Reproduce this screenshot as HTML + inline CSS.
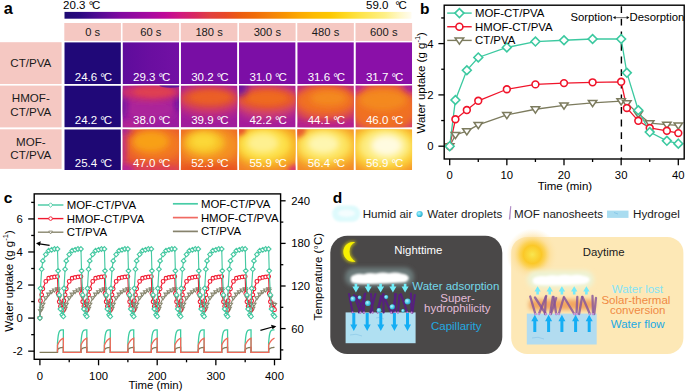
<!DOCTYPE html>
<html><head><meta charset="utf-8"><title>Figure</title><style>
html,body{margin:0;padding:0;background:#fff;width:685px;height:392px;overflow:hidden}
svg{display:block}
text{font-family:"Liberation Sans", sans-serif}
</style></head><body>
<svg width="685" height="392" viewBox="0 0 685 392" font-family='"Liberation Sans", sans-serif'>
<defs>
<linearGradient id="cbar" x1="0" y1="0" x2="1" y2="0"><stop offset="0" stop-color="#1e0a72"/><stop offset="0.045" stop-color="#2a0880"/><stop offset="0.088" stop-color="#4a0a90"/><stop offset="0.131" stop-color="#6a0a9a"/><stop offset="0.16" stop-color="#8008a0"/><stop offset="0.203" stop-color="#9408a0"/><stop offset="0.246" stop-color="#a808a0"/><stop offset="0.29" stop-color="#c00898"/><stop offset="0.333" stop-color="#d01880"/><stop offset="0.376" stop-color="#d82860"/><stop offset="0.419" stop-color="#e04040"/><stop offset="0.463" stop-color="#e84828"/><stop offset="0.506" stop-color="#ec5c10"/><stop offset="0.549" stop-color="#f06c08"/><stop offset="0.592" stop-color="#f48008"/><stop offset="0.636" stop-color="#f89400"/><stop offset="0.679" stop-color="#fcaa00"/><stop offset="0.722" stop-color="#fdbc00"/><stop offset="0.765" stop-color="#fdc800"/><stop offset="0.808" stop-color="#fed820"/><stop offset="0.852" stop-color="#fee448"/><stop offset="0.924" stop-color="#fef088"/><stop offset="0.967" stop-color="#fff8c8"/><stop offset="1" stop-color="#fffcf0"/></linearGradient>
<radialGradient id="drop" cx="0.4" cy="0.4" r="0.6"><stop offset="0" stop-color="#b8f4ff"/><stop offset="0.6" stop-color="#52d0ea"/><stop offset="1" stop-color="#2aa8c8"/></radialGradient>
<radialGradient id="sun" cx="0.5" cy="0.5" r="0.5"><stop offset="0" stop-color="#f9e650"/><stop offset="0.15" stop-color="#fad83c"/><stop offset="0.35" stop-color="#fbc828"/><stop offset="0.5" stop-color="#fcd050" stop-opacity="0.9"/><stop offset="0.7" stop-color="#fddc90" stop-opacity="0.55"/><stop offset="1" stop-color="#fde8b6" stop-opacity="0"/></radialGradient>
<linearGradient id="g01" x1="0" y1="0" x2="1" y2="0"><stop offset="0" stop-color="#5e0c9c"/><stop offset="0.5" stop-color="#6a0ea0"/><stop offset="1" stop-color="#7210a4"/></linearGradient>
<filter id="bl2" x="-50%" y="-50%" width="200%" height="200%"><feGaussianBlur stdDeviation="2"/></filter>
<filter id="bl3" x="-50%" y="-50%" width="200%" height="200%"><feGaussianBlur stdDeviation="3"/></filter>
<filter id="bl4" x="-50%" y="-50%" width="200%" height="200%"><feGaussianBlur stdDeviation="4"/></filter>
<filter id="blur08" x="-20%" y="-50%" width="140%" height="200%"><feGaussianBlur stdDeviation="0.8"/></filter>
<filter id="blur05" x="-20%" y="-20%" width="140%" height="140%"><feGaussianBlur stdDeviation="0.6"/></filter>
<filter id="blur1" x="-20%" y="-50%" width="140%" height="200%"><feGaussianBlur stdDeviation="1"/></filter>
<filter id="blur2" x="-30%" y="-80%" width="160%" height="260%"><feGaussianBlur stdDeviation="2"/></filter>
<filter id="blur3" x="-30%" y="-80%" width="160%" height="260%"><feGaussianBlur stdDeviation="3"/></filter>
<filter id="glowy" x="-50%" y="-50%" width="200%" height="200%"><feMorphology in="SourceAlpha" operator="dilate" radius="1.2" result="d"/><feGaussianBlur in="d" stdDeviation="1.5" result="b"/><feFlood flood-color="#aaa41c"/><feComposite in2="b" operator="in" result="g"/><feMerge><feMergeNode in="g"/><feMergeNode in="SourceGraphic"/></feMerge></filter>
</defs>
<text x="3.70" y="13.60" font-size="16.3" text-anchor="start" fill="#000" font-weight="bold" >a</text>
<rect x="64.5" y="11.9" width="347.0" height="6.8" fill="url(#cbar)"/>
<text x="63.10" y="8.80" font-size="11.5" text-anchor="start" fill="#000" font-weight="normal" >20.3 <tspan letter-spacing="-1.2">°</tspan>C</text>
<text x="366.00" y="8.90" font-size="11.5" text-anchor="start" fill="#000" font-weight="normal" >59.0</text>
<text x="406.90" y="8.90" font-size="11.5" text-anchor="end" fill="#000" font-weight="normal" ><tspan letter-spacing="-1.2">°</tspan>C</text>
<rect x="64.30" y="23.0" width="56.6" height="17.9" fill="#f5c8c2"/>
<text x="92.60" y="36.00" font-size="11.2" text-anchor="middle" fill="#1a1a1a" font-weight="normal" >0 s</text>
<rect x="122.54" y="23.0" width="56.6" height="17.9" fill="#f5c8c2"/>
<text x="150.84" y="36.00" font-size="11.2" text-anchor="middle" fill="#1a1a1a" font-weight="normal" >60 s</text>
<rect x="180.78" y="23.0" width="56.6" height="17.9" fill="#f5c8c2"/>
<text x="209.08" y="36.00" font-size="11.2" text-anchor="middle" fill="#1a1a1a" font-weight="normal" >180 s</text>
<rect x="239.02" y="23.0" width="56.6" height="17.9" fill="#f5c8c2"/>
<text x="267.32" y="36.00" font-size="11.2" text-anchor="middle" fill="#1a1a1a" font-weight="normal" >300 s</text>
<rect x="297.26" y="23.0" width="56.6" height="17.9" fill="#f5c8c2"/>
<text x="325.56" y="36.00" font-size="11.2" text-anchor="middle" fill="#1a1a1a" font-weight="normal" >480 s</text>
<rect x="355.50" y="23.0" width="56.6" height="17.9" fill="#f5c8c2"/>
<text x="383.80" y="36.00" font-size="11.2" text-anchor="middle" fill="#1a1a1a" font-weight="normal" >600 s</text>
<rect x="0" y="42.20" width="61.6" height="41.80" fill="#f5c8c2"/>
<text x="30.80" y="67.20" font-size="11.6" text-anchor="middle" fill="#1a1a1a" font-weight="normal" >CT/PVA</text>
<clipPath id="cl00"><rect x="64.30" y="42.20" width="56.6" height="41.80"/></clipPath>
<g clip-path="url(#cl00)"><rect x="64.30" y="42.20" width="56.6" height="41.80" fill="#200878"/>
</g>
<text x="93.40" y="80.90" font-size="11.5" text-anchor="middle" fill="#fff" font-weight="normal" >24.6 <tspan letter-spacing="-1.2">°</tspan>C</text>
<clipPath id="cl01"><rect x="122.54" y="42.20" width="56.6" height="41.80"/></clipPath>
<g clip-path="url(#cl01)"><rect x="122.54" y="42.20" width="56.6" height="41.80" fill="url(#g01)"/>
</g>
<text x="151.64" y="80.90" font-size="11.5" text-anchor="middle" fill="#fff" font-weight="normal" >29.3 <tspan letter-spacing="-1.2">°</tspan>C</text>
<clipPath id="cl02"><rect x="180.78" y="42.20" width="56.6" height="41.80"/></clipPath>
<g clip-path="url(#cl02)"><rect x="180.78" y="42.20" width="56.6" height="41.80" fill="#780ea4"/>
</g>
<text x="209.88" y="80.90" font-size="11.5" text-anchor="middle" fill="#fff" font-weight="normal" >30.2 <tspan letter-spacing="-1.2">°</tspan>C</text>
<clipPath id="cl03"><rect x="239.02" y="42.20" width="56.6" height="41.80"/></clipPath>
<g clip-path="url(#cl03)"><rect x="239.02" y="42.20" width="56.6" height="41.80" fill="#7c0ea6"/>
</g>
<text x="268.12" y="80.90" font-size="11.5" text-anchor="middle" fill="#fff" font-weight="normal" >31.0 <tspan letter-spacing="-1.2">°</tspan>C</text>
<clipPath id="cl04"><rect x="297.26" y="42.20" width="56.6" height="41.80"/></clipPath>
<g clip-path="url(#cl04)"><rect x="297.26" y="42.20" width="56.6" height="41.80" fill="#840ea8"/>
</g>
<text x="326.36" y="80.90" font-size="11.5" text-anchor="middle" fill="#fff" font-weight="normal" >31.6 <tspan letter-spacing="-1.2">°</tspan>C</text>
<clipPath id="cl05"><rect x="355.50" y="42.20" width="56.6" height="41.80"/></clipPath>
<g clip-path="url(#cl05)"><rect x="355.50" y="42.20" width="56.6" height="41.80" fill="#8a10a8"/>
</g>
<text x="384.60" y="80.90" font-size="11.5" text-anchor="middle" fill="#fff" font-weight="normal" >31.7 <tspan letter-spacing="-1.2">°</tspan>C</text>
<rect x="0" y="85.60" width="61.6" height="41.80" fill="#f5c8c2"/>
<text x="30.80" y="101.85" font-size="11.6" text-anchor="middle" fill="#1a1a1a" font-weight="normal" >HMOF-</text>
<text x="30.80" y="115.55" font-size="11.6" text-anchor="middle" fill="#1a1a1a" font-weight="normal" >CT/PVA</text>
<clipPath id="cl10"><rect x="64.30" y="85.60" width="56.6" height="41.80"/></clipPath>
<g clip-path="url(#cl10)"><rect x="64.30" y="85.60" width="56.6" height="41.80" fill="#200878"/>
</g>
<text x="93.40" y="123.80" font-size="11.5" text-anchor="middle" fill="#fff" font-weight="normal" >24.2 <tspan letter-spacing="-1.2">°</tspan>C</text>
<clipPath id="cl11"><rect x="122.54" y="85.60" width="56.6" height="41.80"/></clipPath>
<g clip-path="url(#cl11)"><rect x="122.54" y="85.60" width="56.6" height="41.80" fill="#9a1ca0"/>
<ellipse cx="148.01" cy="108.59" rx="28.30" ry="12.54" fill="#b02498" fill-opacity="0.8" filter="url(#bl4)"/>
<ellipse cx="122.54" cy="106.50" rx="4.53" ry="12.54" fill="#6a14a0" fill-opacity="0.8" filter="url(#bl3)"/>
<ellipse cx="179.14" cy="102.32" rx="3.40" ry="10.45" fill="#5a10a0" fill-opacity="0.8" filter="url(#bl3)"/>
<ellipse cx="150.84" cy="92.29" rx="31.13" ry="8.36" fill="#d03068" fill-opacity="1" filter="url(#bl3)"/>
<ellipse cx="153.67" cy="91.87" rx="19.81" ry="5.02" fill="#e04050" fill-opacity="0.9" filter="url(#bl2)"/>
<ellipse cx="131.03" cy="125.31" rx="11.32" ry="4.18" fill="#c02890" fill-opacity="0.8" filter="url(#bl3)"/>
<ellipse cx="170.65" cy="85.60" rx="11.32" ry="2.09" fill="#4a10a0" fill-opacity="0.8" filter="url(#bl1)"/>
</g>
<text x="151.64" y="123.80" font-size="11.5" text-anchor="middle" fill="#fff" font-weight="normal" >38.0 <tspan letter-spacing="-1.2">°</tspan>C</text>
<clipPath id="cl12"><rect x="180.78" y="85.60" width="56.6" height="41.80"/></clipPath>
<g clip-path="url(#cl12)"><rect x="180.78" y="85.60" width="56.6" height="41.80" fill="#a01c9c"/>
<ellipse cx="209.08" cy="100.23" rx="33.96" ry="16.72" fill="#c83078" fill-opacity="1" filter="url(#bl4)"/>
<ellipse cx="209.08" cy="98.14" rx="28.30" ry="10.45" fill="#e05038" fill-opacity="1" filter="url(#bl3)"/>
<ellipse cx="210.21" cy="97.30" rx="19.81" ry="6.27" fill="#ec6024" fill-opacity="0.9" filter="url(#bl2)"/>
</g>
<text x="209.88" y="123.80" font-size="11.5" text-anchor="middle" fill="#fff" font-weight="normal" >39.9 <tspan letter-spacing="-1.2">°</tspan>C</text>
<clipPath id="cl13"><rect x="239.02" y="85.60" width="56.6" height="41.80"/></clipPath>
<g clip-path="url(#cl13)"><rect x="239.02" y="85.60" width="56.6" height="41.80" fill="#a41c9c"/>
<ellipse cx="267.32" cy="101.48" rx="33.96" ry="17.56" fill="#d04070" fill-opacity="1" filter="url(#bl4)"/>
<ellipse cx="267.32" cy="98.98" rx="29.43" ry="10.87" fill="#e85a2c" fill-opacity="1" filter="url(#bl3)"/>
<ellipse cx="267.32" cy="98.14" rx="19.81" ry="6.27" fill="#f06c20" fill-opacity="0.9" filter="url(#bl2)"/>
<ellipse cx="239.02" cy="87.69" rx="8.49" ry="8.36" fill="#6010a0" fill-opacity="0.8" filter="url(#bl3)"/>
</g>
<text x="268.12" y="123.80" font-size="11.5" text-anchor="middle" fill="#fff" font-weight="normal" >42.2 <tspan letter-spacing="-1.2">°</tspan>C</text>
<clipPath id="cl14"><rect x="297.26" y="85.60" width="56.6" height="41.80"/></clipPath>
<g clip-path="url(#cl14)"><rect x="297.26" y="85.60" width="56.6" height="41.80" fill="#b02090"/>
<ellipse cx="325.56" cy="103.16" rx="35.09" ry="20.90" fill="#e05048" fill-opacity="1" filter="url(#bl4)"/>
<ellipse cx="325.56" cy="100.65" rx="29.43" ry="13.79" fill="#f07020" fill-opacity="1" filter="url(#bl3)"/>
<ellipse cx="328.39" cy="98.14" rx="18.11" ry="7.52" fill="#f48c20" fill-opacity="0.9" filter="url(#bl3)"/>
<ellipse cx="325.56" cy="127.40" rx="33.96" ry="5.02" fill="#b82090" fill-opacity="0.9" filter="url(#bl3)"/>
</g>
<text x="326.36" y="123.80" font-size="11.5" text-anchor="middle" fill="#fff" font-weight="normal" >44.1 <tspan letter-spacing="-1.2">°</tspan>C</text>
<clipPath id="cl15"><rect x="355.50" y="85.60" width="56.6" height="41.80"/></clipPath>
<g clip-path="url(#cl15)"><rect x="355.50" y="85.60" width="56.6" height="41.80" fill="#c82c88"/>
<ellipse cx="383.80" cy="108.59" rx="35.09" ry="25.08" fill="#f07020" fill-opacity="1" filter="url(#bl4)"/>
<ellipse cx="382.67" cy="100.23" rx="23.77" ry="10.45" fill="#f48c20" fill-opacity="0.9" filter="url(#bl3)"/>
<ellipse cx="412.10" cy="85.60" rx="8.49" ry="6.27" fill="#a018a0" fill-opacity="0.9" filter="url(#bl3)"/>
<ellipse cx="355.50" cy="85.60" rx="6.79" ry="5.02" fill="#b020a0" fill-opacity="0.8" filter="url(#bl3)"/>
</g>
<text x="384.60" y="123.80" font-size="11.5" text-anchor="middle" fill="#fff" font-weight="normal" >46.0 <tspan letter-spacing="-1.2">°</tspan>C</text>
<rect x="0" y="129.30" width="61.6" height="39.60" fill="#f5c8c2"/>
<text x="30.80" y="145.55" font-size="11.6" text-anchor="middle" fill="#1a1a1a" font-weight="normal" >MOF-</text>
<text x="30.80" y="159.25" font-size="11.6" text-anchor="middle" fill="#1a1a1a" font-weight="normal" >CT/PVA</text>
<clipPath id="cl20"><rect x="64.30" y="129.30" width="56.6" height="40.70"/></clipPath>
<g clip-path="url(#cl20)"><rect x="64.30" y="129.30" width="56.6" height="40.70" fill="#1e0874"/>
</g>
<text x="93.40" y="166.70" font-size="11.5" text-anchor="middle" fill="#fff" font-weight="normal" >25.4 <tspan letter-spacing="-1.2">°</tspan>C</text>
<clipPath id="cl21"><rect x="122.54" y="129.30" width="56.6" height="40.70"/></clipPath>
<g clip-path="url(#cl21)"><rect x="122.54" y="129.30" width="56.6" height="40.70" fill="#e85830"/>
<ellipse cx="156.50" cy="144.77" rx="28.30" ry="17.09" fill="#f27820" fill-opacity="1" filter="url(#bl4)"/>
<ellipse cx="150.84" cy="141.51" rx="18.11" ry="10.18" fill="#f8a018" fill-opacity="1" filter="url(#bl3)"/>
<ellipse cx="122.54" cy="147.62" rx="3.40" ry="22.39" fill="#b020a0" fill-opacity="0.9" filter="url(#bl3)"/>
<ellipse cx="123.67" cy="129.30" rx="7.92" ry="4.88" fill="#a020a0" fill-opacity="0.9" filter="url(#bl3)"/>
<ellipse cx="150.84" cy="170.00" rx="33.96" ry="5.70" fill="#d83860" fill-opacity="0.8" filter="url(#bl3)"/>
<ellipse cx="124.24" cy="170.00" rx="10.19" ry="6.51" fill="#b020a0" fill-opacity="0.9" filter="url(#bl3)"/>
</g>
<text x="151.64" y="166.70" font-size="11.5" text-anchor="middle" fill="#fff" font-weight="normal" >47.0 <tspan letter-spacing="-1.2">°</tspan>C</text>
<clipPath id="cl22"><rect x="180.78" y="129.30" width="56.6" height="40.70"/></clipPath>
<g clip-path="url(#cl22)"><rect x="180.78" y="129.30" width="56.6" height="40.70" fill="#ec6a28"/>
<ellipse cx="209.08" cy="145.58" rx="31.13" ry="19.54" fill="#f49020" fill-opacity="1" filter="url(#bl4)"/>
<ellipse cx="204.55" cy="142.73" rx="20.38" ry="12.21" fill="#f8c028" fill-opacity="1" filter="url(#bl3)"/>
<ellipse cx="203.42" cy="141.51" rx="12.45" ry="7.33" fill="#fcd838" fill-opacity="1" filter="url(#bl3)"/>
<ellipse cx="209.08" cy="170.00" rx="33.96" ry="6.11" fill="#e85020" fill-opacity="0.9" filter="url(#bl3)"/>
</g>
<text x="209.88" y="166.70" font-size="11.5" text-anchor="middle" fill="#fff" font-weight="normal" >52.3 <tspan letter-spacing="-1.2">°</tspan>C</text>
<clipPath id="cl23"><rect x="239.02" y="129.30" width="56.6" height="40.70"/></clipPath>
<g clip-path="url(#cl23)"><rect x="239.02" y="129.30" width="56.6" height="40.70" fill="#f28028"/>
<ellipse cx="267.32" cy="146.39" rx="35.09" ry="22.39" fill="#f8b828" fill-opacity="1" filter="url(#bl4)"/>
<ellipse cx="264.49" cy="144.77" rx="26.04" ry="16.28" fill="#fde048" fill-opacity="1" filter="url(#bl3)"/>
<ellipse cx="262.79" cy="143.14" rx="15.85" ry="9.77" fill="#fef090" fill-opacity="1" filter="url(#bl3)"/>
<ellipse cx="295.62" cy="170.00" rx="7.36" ry="5.29" fill="#d83070" fill-opacity="0.9" filter="url(#bl2)"/>
<ellipse cx="239.02" cy="129.30" rx="6.79" ry="6.11" fill="#e85030" fill-opacity="0.9" filter="url(#bl2)"/>
</g>
<text x="268.12" y="166.70" font-size="11.5" text-anchor="middle" fill="#fff" font-weight="normal" >55.9 <tspan letter-spacing="-1.2">°</tspan>C</text>
<clipPath id="cl24"><rect x="297.26" y="129.30" width="56.6" height="40.70"/></clipPath>
<g clip-path="url(#cl24)"><rect x="297.26" y="129.30" width="56.6" height="40.70" fill="#f28828"/>
<ellipse cx="325.56" cy="146.39" rx="35.09" ry="22.39" fill="#fac030" fill-opacity="1" filter="url(#bl4)"/>
<ellipse cx="324.43" cy="145.58" rx="26.04" ry="16.28" fill="#fde460" fill-opacity="1" filter="url(#bl3)"/>
<ellipse cx="323.30" cy="143.95" rx="15.85" ry="9.77" fill="#fef6b0" fill-opacity="1" filter="url(#bl3)"/>
<ellipse cx="297.26" cy="129.30" rx="8.49" ry="8.14" fill="#e85830" fill-opacity="0.9" filter="url(#bl2)"/>
</g>
<text x="326.36" y="166.70" font-size="11.5" text-anchor="middle" fill="#fff" font-weight="normal" >56.4 <tspan letter-spacing="-1.2">°</tspan>C</text>
<clipPath id="cl25"><rect x="355.50" y="129.30" width="56.6" height="40.70"/></clipPath>
<g clip-path="url(#cl25)"><rect x="355.50" y="129.30" width="56.6" height="40.70" fill="#f59028"/>
<ellipse cx="384.93" cy="147.62" rx="36.22" ry="24.42" fill="#fcd038" fill-opacity="1" filter="url(#bl4)"/>
<ellipse cx="384.93" cy="146.39" rx="26.04" ry="17.09" fill="#fdec80" fill-opacity="1" filter="url(#bl3)"/>
<ellipse cx="386.63" cy="145.58" rx="15.85" ry="10.58" fill="#fffbe0" fill-opacity="1" filter="url(#bl3)"/>
</g>
<text x="384.60" y="166.70" font-size="11.5" text-anchor="middle" fill="#fff" font-weight="normal" >56.9 <tspan letter-spacing="-1.2">°</tspan>C</text>
<text x="420.10" y="13.70" font-size="15.5" text-anchor="start" fill="#000" font-weight="bold" >b</text>
<line x1="621.4" y1="5.2" x2="621.4" y2="159.0" stroke="#000" stroke-width="1.4" stroke-dasharray="6.8 5.8" stroke-dashoffset="-1"/>
<polyline points="449.70,146.20 455.41,134.91 466.84,131.07 478.27,124.91 506.85,114.91 535.42,109.26 564.00,105.42 592.58,102.85 621.15,101.06 626.87,103.11 638.29,113.88 649.73,123.11 666.87,124.65 678.30,125.42" fill="none" stroke="#7c7b5e" stroke-width="1.3"/>
<polyline points="449.70,146.20 455.41,119.27 466.84,110.03 478.27,100.80 506.85,89.26 535.42,84.38 564.00,83.10 592.58,82.33 621.15,81.82 626.87,107.98 638.29,120.81 649.73,127.99 666.87,130.81 678.30,133.12" fill="none" stroke="#f0142a" stroke-width="1.3"/>
<polyline points="449.70,146.20 455.41,100.03 466.84,70.28 478.27,57.45 506.85,47.45 535.42,41.55 564.00,40.27 592.58,38.98 621.15,38.98 626.87,72.84 638.29,110.29 649.73,132.09 666.87,140.81 678.30,143.63" fill="none" stroke="#3cc9a0" stroke-width="1.3"/>
<path d="M445.50 143.81 L453.90 143.81 L449.70 149.99 Z" fill="#fff" stroke="#7c7b5e" stroke-width="1.5" stroke-linejoin="miter"/>
<path d="M451.21 132.52 L459.61 132.52 L455.41 138.70 Z" fill="#fff" stroke="#7c7b5e" stroke-width="1.5" stroke-linejoin="miter"/>
<path d="M462.64 128.67 L471.04 128.67 L466.84 134.86 Z" fill="#fff" stroke="#7c7b5e" stroke-width="1.5" stroke-linejoin="miter"/>
<path d="M474.07 122.52 L482.47 122.52 L478.27 128.70 Z" fill="#fff" stroke="#7c7b5e" stroke-width="1.5" stroke-linejoin="miter"/>
<path d="M502.65 112.51 L511.05 112.51 L506.85 118.70 Z" fill="#fff" stroke="#7c7b5e" stroke-width="1.5" stroke-linejoin="miter"/>
<path d="M531.22 106.87 L539.62 106.87 L535.42 113.05 Z" fill="#fff" stroke="#7c7b5e" stroke-width="1.5" stroke-linejoin="miter"/>
<path d="M559.80 103.02 L568.20 103.02 L564.00 109.21 Z" fill="#fff" stroke="#7c7b5e" stroke-width="1.5" stroke-linejoin="miter"/>
<path d="M588.38 100.46 L596.78 100.46 L592.58 106.64 Z" fill="#fff" stroke="#7c7b5e" stroke-width="1.5" stroke-linejoin="miter"/>
<path d="M616.95 98.66 L625.35 98.66 L621.15 104.85 Z" fill="#fff" stroke="#7c7b5e" stroke-width="1.5" stroke-linejoin="miter"/>
<path d="M622.66 100.71 L631.07 100.71 L626.87 106.90 Z" fill="#fff" stroke="#7c7b5e" stroke-width="1.5" stroke-linejoin="miter"/>
<path d="M634.09 111.49 L642.50 111.49 L638.29 117.67 Z" fill="#fff" stroke="#7c7b5e" stroke-width="1.5" stroke-linejoin="miter"/>
<path d="M645.52 120.72 L653.93 120.72 L649.73 126.91 Z" fill="#fff" stroke="#7c7b5e" stroke-width="1.5" stroke-linejoin="miter"/>
<path d="M662.67 122.26 L671.07 122.26 L666.87 128.44 Z" fill="#fff" stroke="#7c7b5e" stroke-width="1.5" stroke-linejoin="miter"/>
<path d="M674.10 123.03 L682.50 123.03 L678.30 129.21 Z" fill="#fff" stroke="#7c7b5e" stroke-width="1.5" stroke-linejoin="miter"/>
<circle cx="449.70" cy="146.20" r="3.4" fill="#fff" stroke="#f0142a" stroke-width="1.6"/>
<circle cx="455.41" cy="119.27" r="3.4" fill="#fff" stroke="#f0142a" stroke-width="1.6"/>
<circle cx="466.84" cy="110.03" r="3.4" fill="#fff" stroke="#f0142a" stroke-width="1.6"/>
<circle cx="478.27" cy="100.80" r="3.4" fill="#fff" stroke="#f0142a" stroke-width="1.6"/>
<circle cx="506.85" cy="89.26" r="3.4" fill="#fff" stroke="#f0142a" stroke-width="1.6"/>
<circle cx="535.42" cy="84.38" r="3.4" fill="#fff" stroke="#f0142a" stroke-width="1.6"/>
<circle cx="564.00" cy="83.10" r="3.4" fill="#fff" stroke="#f0142a" stroke-width="1.6"/>
<circle cx="592.58" cy="82.33" r="3.4" fill="#fff" stroke="#f0142a" stroke-width="1.6"/>
<circle cx="621.15" cy="81.82" r="3.4" fill="#fff" stroke="#f0142a" stroke-width="1.6"/>
<circle cx="626.87" cy="107.98" r="3.4" fill="#fff" stroke="#f0142a" stroke-width="1.6"/>
<circle cx="638.29" cy="120.81" r="3.4" fill="#fff" stroke="#f0142a" stroke-width="1.6"/>
<circle cx="649.73" cy="127.99" r="3.4" fill="#fff" stroke="#f0142a" stroke-width="1.6"/>
<circle cx="666.87" cy="130.81" r="3.4" fill="#fff" stroke="#f0142a" stroke-width="1.6"/>
<circle cx="678.30" cy="133.12" r="3.4" fill="#fff" stroke="#f0142a" stroke-width="1.6"/>
<path d="M449.70 141.80 L454.10 146.20 L449.70 150.60 L445.30 146.20 Z" fill="#fff" stroke="#3cc9a0" stroke-width="1.6"/>
<path d="M455.41 95.63 L459.81 100.03 L455.41 104.43 L451.01 100.03 Z" fill="#fff" stroke="#3cc9a0" stroke-width="1.6"/>
<path d="M466.84 65.88 L471.24 70.28 L466.84 74.68 L462.44 70.28 Z" fill="#fff" stroke="#3cc9a0" stroke-width="1.6"/>
<path d="M478.27 53.05 L482.67 57.45 L478.27 61.85 L473.88 57.45 Z" fill="#fff" stroke="#3cc9a0" stroke-width="1.6"/>
<path d="M506.85 43.05 L511.25 47.45 L506.85 51.85 L502.45 47.45 Z" fill="#fff" stroke="#3cc9a0" stroke-width="1.6"/>
<path d="M535.42 37.15 L539.82 41.55 L535.42 45.95 L531.02 41.55 Z" fill="#fff" stroke="#3cc9a0" stroke-width="1.6"/>
<path d="M564.00 35.87 L568.40 40.27 L564.00 44.67 L559.60 40.27 Z" fill="#fff" stroke="#3cc9a0" stroke-width="1.6"/>
<path d="M592.58 34.58 L596.98 38.98 L592.58 43.38 L588.18 38.98 Z" fill="#fff" stroke="#3cc9a0" stroke-width="1.6"/>
<path d="M621.15 34.58 L625.55 38.98 L621.15 43.38 L616.75 38.98 Z" fill="#fff" stroke="#3cc9a0" stroke-width="1.6"/>
<path d="M626.87 68.44 L631.26 72.84 L626.87 77.24 L622.47 72.84 Z" fill="#fff" stroke="#3cc9a0" stroke-width="1.6"/>
<path d="M638.29 105.89 L642.69 110.29 L638.29 114.69 L633.89 110.29 Z" fill="#fff" stroke="#3cc9a0" stroke-width="1.6"/>
<path d="M649.73 127.69 L654.12 132.09 L649.73 136.49 L645.33 132.09 Z" fill="#fff" stroke="#3cc9a0" stroke-width="1.6"/>
<path d="M666.87 136.41 L671.27 140.81 L666.87 145.21 L662.47 140.81 Z" fill="#fff" stroke="#3cc9a0" stroke-width="1.6"/>
<path d="M678.30 139.23 L682.70 143.63 L678.30 148.03 L673.90 143.63 Z" fill="#fff" stroke="#3cc9a0" stroke-width="1.6"/>
<rect x="444.2" y="5.2" width="240.00000000000006" height="153.8" fill="none" stroke="#000" stroke-width="1.4"/>
<line x1="438.40" y1="146.20" x2="444.2" y2="146.20" stroke="#000" stroke-width="1.3"/>
<text x="433.60" y="150.20" font-size="11.3" text-anchor="end" fill="#000" font-weight="normal" >0</text>
<line x1="441.20" y1="120.55" x2="444.2" y2="120.55" stroke="#000" stroke-width="1.3"/>
<line x1="438.40" y1="94.90" x2="444.2" y2="94.90" stroke="#000" stroke-width="1.3"/>
<text x="433.60" y="98.90" font-size="11.3" text-anchor="end" fill="#000" font-weight="normal" >2</text>
<line x1="441.20" y1="69.25" x2="444.2" y2="69.25" stroke="#000" stroke-width="1.3"/>
<line x1="438.40" y1="43.60" x2="444.2" y2="43.60" stroke="#000" stroke-width="1.3"/>
<text x="433.60" y="47.60" font-size="11.3" text-anchor="end" fill="#000" font-weight="normal" >4</text>
<line x1="441.20" y1="17.95" x2="444.2" y2="17.95" stroke="#000" stroke-width="1.3"/>
<line x1="449.70" y1="159.0" x2="449.70" y2="165.20" stroke="#000" stroke-width="1.3"/>
<text x="449.70" y="179.00" font-size="11.3" text-anchor="middle" fill="#000" font-weight="normal" >0</text>
<line x1="478.27" y1="159.0" x2="478.27" y2="162.00" stroke="#000" stroke-width="1.3"/>
<line x1="506.85" y1="159.0" x2="506.85" y2="165.20" stroke="#000" stroke-width="1.3"/>
<text x="506.85" y="179.00" font-size="11.3" text-anchor="middle" fill="#000" font-weight="normal" >10</text>
<line x1="535.42" y1="159.0" x2="535.42" y2="162.00" stroke="#000" stroke-width="1.3"/>
<line x1="564.00" y1="159.0" x2="564.00" y2="165.20" stroke="#000" stroke-width="1.3"/>
<text x="564.00" y="179.00" font-size="11.3" text-anchor="middle" fill="#000" font-weight="normal" >20</text>
<line x1="592.58" y1="159.0" x2="592.58" y2="162.00" stroke="#000" stroke-width="1.3"/>
<line x1="621.15" y1="159.0" x2="621.15" y2="165.20" stroke="#000" stroke-width="1.3"/>
<text x="621.15" y="179.00" font-size="11.3" text-anchor="middle" fill="#000" font-weight="normal" >30</text>
<line x1="649.73" y1="159.0" x2="649.73" y2="162.00" stroke="#000" stroke-width="1.3"/>
<line x1="678.30" y1="159.0" x2="678.30" y2="165.20" stroke="#000" stroke-width="1.3"/>
<text x="678.30" y="179.00" font-size="11.3" text-anchor="middle" fill="#000" font-weight="normal" >40</text>
<text x="564.90" y="190.40" font-size="11.5" text-anchor="middle" fill="#000" font-weight="normal" >Time (min)</text>
<text transform="translate(424.6 82.8) rotate(-90)" font-size="11.5" text-anchor="middle">Water uptake (g g<tspan font-size="7.5" dy="-4.8">-1</tspan><tspan dy="4.8">)</tspan></text>
<line x1="447.2" y1="13.10" x2="471.7" y2="13.10" stroke="#3cc9a0" stroke-width="1.4"/>
<path d="M459.40 8.60 L463.90 13.10 L459.40 17.60 L454.90 13.10 Z" fill="#fff" stroke="#3cc9a0" stroke-width="1.6"/>
<text x="475.00" y="17.10" font-size="11.4" text-anchor="start" fill="#000" font-weight="normal" >MOF-CT/PVA</text>
<line x1="447.2" y1="26.75" x2="471.7" y2="26.75" stroke="#f0142a" stroke-width="1.4"/>
<circle cx="459.40" cy="26.75" r="3.5" fill="#fff" stroke="#f0142a" stroke-width="1.6"/>
<text x="475.00" y="30.75" font-size="11.4" text-anchor="start" fill="#000" font-weight="normal" >HMOF-CT/PVA</text>
<line x1="447.2" y1="40.40" x2="471.7" y2="40.40" stroke="#7c7b5e" stroke-width="1.4"/>
<path d="M455.10 37.95 L463.70 37.95 L459.40 44.28 Z" fill="#fff" stroke="#7c7b5e" stroke-width="1.5" stroke-linejoin="miter"/>
<text x="475.00" y="44.40" font-size="11.4" text-anchor="start" fill="#000" font-weight="normal" >CT/PVA</text>
<text x="612.50" y="21.10" font-size="11.3" text-anchor="end" fill="#000" font-weight="normal" >Sorption</text>
<text x="629.50" y="21.10" font-size="11.35" text-anchor="start" fill="#000" font-weight="normal" >Desorption</text>
<line x1="614.5" y1="17.6" x2="628" y2="17.6" stroke="#777" stroke-width="1.1"/>
<path d="M612.9 17.6 L615.6 15.9 L615.6 19.3 Z" fill="#111"/>
<path d="M629.4 17.6 L626.7 15.9 L626.7 19.3 Z" fill="#111"/>
<text x="3.80" y="203.00" font-size="15.5" text-anchor="start" fill="#000" font-weight="bold" >c</text>
<polyline points="57.49,352.31 57.49,352.31 57.49,343.08 57.79,339.51 58.08,336.90 58.37,334.99 58.67,333.59 58.96,332.57 59.25,331.82 59.55,331.27 59.84,330.87 60.13,330.58 60.43,330.37 60.72,330.21 61.01,330.09 61.31,330.01 61.60,329.95 61.89,329.90 62.19,329.87 62.48,329.85 62.77,329.83 63.07,329.82 63.36,329.81 63.36,352.31 80.95,352.31 80.95,343.08 81.25,339.51 81.54,336.90 81.83,334.99 82.13,333.59 82.42,332.57 82.71,331.82 83.01,331.27 83.30,330.87 83.59,330.58 83.89,330.37 84.18,330.21 84.47,330.09 84.77,330.01 85.06,329.95 85.35,329.90 85.65,329.87 85.94,329.85 86.23,329.83 86.53,329.82 86.82,329.81 86.82,352.31 104.41,352.31 104.41,343.08 104.71,339.51 105.00,336.90 105.29,334.99 105.59,333.59 105.88,332.57 106.17,331.82 106.47,331.27 106.76,330.87 107.05,330.58 107.35,330.37 107.64,330.21 107.93,330.09 108.23,330.01 108.52,329.95 108.81,329.90 109.11,329.87 109.40,329.85 109.69,329.83 109.99,329.82 110.28,329.81 110.28,352.31 127.88,352.31 127.88,343.08 128.17,339.51 128.46,336.90 128.75,334.99 129.05,333.59 129.34,332.57 129.63,331.82 129.93,331.27 130.22,330.87 130.51,330.58 130.81,330.37 131.10,330.21 131.39,330.09 131.69,330.01 131.98,329.95 132.27,329.90 132.57,329.87 132.86,329.85 133.15,329.83 133.45,329.82 133.74,329.81 133.74,352.31 151.34,352.31 151.34,343.08 151.63,339.51 151.92,336.90 152.21,334.99 152.51,333.59 152.80,332.57 153.09,331.82 153.39,331.27 153.68,330.87 153.97,330.58 154.27,330.37 154.56,330.21 154.85,330.09 155.15,330.01 155.44,329.95 155.73,329.90 156.03,329.87 156.32,329.85 156.61,329.83 156.91,329.82 157.20,329.81 157.20,352.31 174.80,352.31 174.80,343.08 175.09,339.51 175.38,336.90 175.67,334.99 175.97,333.59 176.26,332.57 176.55,331.82 176.85,331.27 177.14,330.87 177.43,330.58 177.73,330.37 178.02,330.21 178.31,330.09 178.61,330.01 178.90,329.95 179.19,329.90 179.49,329.87 179.78,329.85 180.07,329.83 180.37,329.82 180.66,329.81 180.66,352.31 198.26,352.31 198.26,343.08 198.55,339.51 198.84,336.90 199.13,334.99 199.43,333.59 199.72,332.57 200.01,331.82 200.31,331.27 200.60,330.87 200.89,330.58 201.19,330.37 201.48,330.21 201.77,330.09 202.07,330.01 202.36,329.95 202.65,329.90 202.95,329.87 203.24,329.85 203.53,329.83 203.83,329.82 204.12,329.81 204.12,352.31 221.72,352.31 221.72,343.08 222.01,339.51 222.30,336.90 222.59,334.99 222.89,333.59 223.18,332.57 223.47,331.82 223.77,331.27 224.06,330.87 224.35,330.58 224.65,330.37 224.94,330.21 225.23,330.09 225.53,330.01 225.82,329.95 226.11,329.90 226.41,329.87 226.70,329.85 226.99,329.83 227.29,329.82 227.58,329.81 227.58,352.31 245.18,352.31 245.18,343.08 245.47,339.51 245.76,336.90 246.05,334.99 246.35,333.59 246.64,332.57 246.93,331.82 247.23,331.27 247.52,330.87 247.81,330.58 248.11,330.37 248.40,330.21 248.69,330.09 248.99,330.01 249.28,329.95 249.57,329.90 249.87,329.87 250.16,329.85 250.45,329.83 250.75,329.82 251.04,329.81 251.04,352.31 268.63,352.31 268.63,343.08 268.93,339.51 269.22,336.90 269.51,334.99 269.81,333.59 270.10,332.57 270.39,331.82 270.69,331.27 270.98,330.87 271.27,330.58 271.57,330.37 271.86,330.21 272.15,330.09 272.45,330.01 272.74,329.95 273.03,329.90 273.33,329.87 273.62,329.85 273.91,329.83 274.21,329.82 274.50,329.81" fill="none" stroke="#3ccca0" stroke-width="1.3"/>
<polyline points="39.55,352.31 57.49,352.31 57.49,349.83 57.79,349.44 58.08,349.12 58.37,348.84 58.67,348.61 58.96,348.41 59.25,348.25 59.55,348.11 59.84,347.99 60.13,347.88 60.43,347.80 60.72,347.73 61.01,347.66 61.31,347.61 61.60,347.57 61.89,347.53 62.19,347.50 62.48,347.47 62.77,347.45 63.07,347.43 63.36,347.41 63.36,352.31 80.95,352.31 80.95,349.83 81.25,349.44 81.54,349.12 81.83,348.84 82.13,348.61 82.42,348.41 82.71,348.25 83.01,348.11 83.30,347.99 83.59,347.88 83.89,347.80 84.18,347.73 84.47,347.66 84.77,347.61 85.06,347.57 85.35,347.53 85.65,347.50 85.94,347.47 86.23,347.45 86.53,347.43 86.82,347.41 86.82,352.31 104.41,352.31 104.41,349.83 104.71,349.44 105.00,349.12 105.29,348.84 105.59,348.61 105.88,348.41 106.17,348.25 106.47,348.11 106.76,347.99 107.05,347.88 107.35,347.80 107.64,347.73 107.93,347.66 108.23,347.61 108.52,347.57 108.81,347.53 109.11,347.50 109.40,347.47 109.69,347.45 109.99,347.43 110.28,347.41 110.28,352.31 127.88,352.31 127.88,349.83 128.17,349.44 128.46,349.12 128.75,348.84 129.05,348.61 129.34,348.41 129.63,348.25 129.93,348.11 130.22,347.99 130.51,347.88 130.81,347.80 131.10,347.73 131.39,347.66 131.69,347.61 131.98,347.57 132.27,347.53 132.57,347.50 132.86,347.47 133.15,347.45 133.45,347.43 133.74,347.41 133.74,352.31 151.34,352.31 151.34,349.83 151.63,349.44 151.92,349.12 152.21,348.84 152.51,348.61 152.80,348.41 153.09,348.25 153.39,348.11 153.68,347.99 153.97,347.88 154.27,347.80 154.56,347.73 154.85,347.66 155.15,347.61 155.44,347.57 155.73,347.53 156.03,347.50 156.32,347.47 156.61,347.45 156.91,347.43 157.20,347.41 157.20,352.31 174.80,352.31 174.80,349.83 175.09,349.44 175.38,349.12 175.67,348.84 175.97,348.61 176.26,348.41 176.55,348.25 176.85,348.11 177.14,347.99 177.43,347.88 177.73,347.80 178.02,347.73 178.31,347.66 178.61,347.61 178.90,347.57 179.19,347.53 179.49,347.50 179.78,347.47 180.07,347.45 180.37,347.43 180.66,347.41 180.66,352.31 198.26,352.31 198.26,349.83 198.55,349.44 198.84,349.12 199.13,348.84 199.43,348.61 199.72,348.41 200.01,348.25 200.31,348.11 200.60,347.99 200.89,347.88 201.19,347.80 201.48,347.73 201.77,347.66 202.07,347.61 202.36,347.57 202.65,347.53 202.95,347.50 203.24,347.47 203.53,347.45 203.83,347.43 204.12,347.41 204.12,352.31 221.72,352.31 221.72,349.83 222.01,349.44 222.30,349.12 222.59,348.84 222.89,348.61 223.18,348.41 223.47,348.25 223.77,348.11 224.06,347.99 224.35,347.88 224.65,347.80 224.94,347.73 225.23,347.66 225.53,347.61 225.82,347.57 226.11,347.53 226.41,347.50 226.70,347.47 226.99,347.45 227.29,347.43 227.58,347.41 227.58,352.31 245.18,352.31 245.18,349.83 245.47,349.44 245.76,349.12 246.05,348.84 246.35,348.61 246.64,348.41 246.93,348.25 247.23,348.11 247.52,347.99 247.81,347.88 248.11,347.80 248.40,347.73 248.69,347.66 248.99,347.61 249.28,347.57 249.57,347.53 249.87,347.50 250.16,347.47 250.45,347.45 250.75,347.43 251.04,347.41 251.04,352.31 268.63,352.31 268.63,349.83 268.93,349.44 269.22,349.12 269.51,348.84 269.81,348.61 270.10,348.41 270.39,348.25 270.69,348.11 270.98,347.99 271.27,347.88 271.57,347.80 271.86,347.73 272.15,347.66 272.45,347.61 272.74,347.57 273.03,347.53 273.33,347.50 273.62,347.47 273.91,347.45 274.21,347.43 274.50,347.41" fill="none" stroke="#807a5a" stroke-width="1.3"/>
<polyline points="57.49,352.31 57.49,352.31 57.49,345.21 57.79,344.52 58.08,343.88 58.37,343.30 58.67,342.76 58.96,342.26 59.25,341.80 59.55,341.38 59.84,341.00 60.13,340.64 60.43,340.31 60.72,340.01 61.01,339.74 61.31,339.48 61.60,339.25 61.89,339.03 62.19,338.83 62.48,338.65 62.77,338.48 63.07,338.33 63.36,338.19 63.36,352.31 80.95,352.31 80.95,345.21 81.25,344.52 81.54,343.88 81.83,343.30 82.13,342.76 82.42,342.26 82.71,341.80 83.01,341.38 83.30,341.00 83.59,340.64 83.89,340.31 84.18,340.01 84.47,339.74 84.77,339.48 85.06,339.25 85.35,339.03 85.65,338.83 85.94,338.65 86.23,338.48 86.53,338.33 86.82,338.19 86.82,352.31 104.41,352.31 104.41,345.21 104.71,344.52 105.00,343.88 105.29,343.30 105.59,342.76 105.88,342.26 106.17,341.80 106.47,341.38 106.76,341.00 107.05,340.64 107.35,340.31 107.64,340.01 107.93,339.74 108.23,339.48 108.52,339.25 108.81,339.03 109.11,338.83 109.40,338.65 109.69,338.48 109.99,338.33 110.28,338.19 110.28,352.31 127.88,352.31 127.88,345.21 128.17,344.52 128.46,343.88 128.75,343.30 129.05,342.76 129.34,342.26 129.63,341.80 129.93,341.38 130.22,341.00 130.51,340.64 130.81,340.31 131.10,340.01 131.39,339.74 131.69,339.48 131.98,339.25 132.27,339.03 132.57,338.83 132.86,338.65 133.15,338.48 133.45,338.33 133.74,338.19 133.74,352.31 151.34,352.31 151.34,345.21 151.63,344.52 151.92,343.88 152.21,343.30 152.51,342.76 152.80,342.26 153.09,341.80 153.39,341.38 153.68,341.00 153.97,340.64 154.27,340.31 154.56,340.01 154.85,339.74 155.15,339.48 155.44,339.25 155.73,339.03 156.03,338.83 156.32,338.65 156.61,338.48 156.91,338.33 157.20,338.19 157.20,352.31 174.80,352.31 174.80,345.21 175.09,344.52 175.38,343.88 175.67,343.30 175.97,342.76 176.26,342.26 176.55,341.80 176.85,341.38 177.14,341.00 177.43,340.64 177.73,340.31 178.02,340.01 178.31,339.74 178.61,339.48 178.90,339.25 179.19,339.03 179.49,338.83 179.78,338.65 180.07,338.48 180.37,338.33 180.66,338.19 180.66,352.31 198.26,352.31 198.26,345.21 198.55,344.52 198.84,343.88 199.13,343.30 199.43,342.76 199.72,342.26 200.01,341.80 200.31,341.38 200.60,341.00 200.89,340.64 201.19,340.31 201.48,340.01 201.77,339.74 202.07,339.48 202.36,339.25 202.65,339.03 202.95,338.83 203.24,338.65 203.53,338.48 203.83,338.33 204.12,338.19 204.12,352.31 221.72,352.31 221.72,345.21 222.01,344.52 222.30,343.88 222.59,343.30 222.89,342.76 223.18,342.26 223.47,341.80 223.77,341.38 224.06,341.00 224.35,340.64 224.65,340.31 224.94,340.01 225.23,339.74 225.53,339.48 225.82,339.25 226.11,339.03 226.41,338.83 226.70,338.65 226.99,338.48 227.29,338.33 227.58,338.19 227.58,352.31 245.18,352.31 245.18,345.21 245.47,344.52 245.76,343.88 246.05,343.30 246.35,342.76 246.64,342.26 246.93,341.80 247.23,341.38 247.52,341.00 247.81,340.64 248.11,340.31 248.40,340.01 248.69,339.74 248.99,339.48 249.28,339.25 249.57,339.03 249.87,338.83 250.16,338.65 250.45,338.48 250.75,338.33 251.04,338.19 251.04,352.31 268.63,352.31 268.63,345.21 268.93,344.52 269.22,343.88 269.51,343.30 269.81,342.76 270.10,342.26 270.39,341.80 270.69,341.38 270.98,341.00 271.27,340.64 271.57,340.31 271.86,340.01 272.15,339.74 272.45,339.48 272.74,339.25 273.03,339.03 273.33,338.83 273.62,338.65 273.91,338.48 274.21,338.33 274.50,338.19" fill="none" stroke="#f06a5a" stroke-width="1.3"/>
<polyline points="39.90,318.10 40.49,310.83 41.66,308.35 42.83,304.38 45.77,297.93 48.70,294.30 51.63,291.82 54.56,290.16 57.49,289.01 58.08,290.33 59.25,297.27 60.43,303.22 62.19,304.21 63.36,304.71 63.95,310.83 65.12,308.35 66.29,304.38 69.22,297.93 72.16,294.30 75.09,291.82 78.02,290.16 80.95,289.01 81.54,290.33 82.71,297.27 83.89,303.22 85.65,304.21 86.82,304.71 87.41,310.83 88.58,308.35 89.75,304.38 92.69,297.93 95.62,294.30 98.55,291.82 101.48,290.16 104.41,289.01 105.00,290.33 106.17,297.27 107.35,303.22 109.11,304.21 110.28,304.71 110.87,310.83 112.04,308.35 113.21,304.38 116.15,297.93 119.08,294.30 122.01,291.82 124.94,290.16 127.88,289.01 128.46,290.33 129.63,297.27 130.81,303.22 132.57,304.21 133.74,304.71 134.33,310.83 135.50,308.35 136.67,304.38 139.60,297.93 142.54,294.30 145.47,291.82 148.40,290.16 151.34,289.01 151.92,290.33 153.09,297.27 154.27,303.22 156.03,304.21 157.20,304.71 157.79,310.83 158.96,308.35 160.13,304.38 163.06,297.93 166.00,294.30 168.93,291.82 171.86,290.16 174.80,289.01 175.38,290.33 176.55,297.27 177.73,303.22 179.49,304.21 180.66,304.71 181.25,310.83 182.42,308.35 183.59,304.38 186.53,297.93 189.46,294.30 192.39,291.82 195.32,290.16 198.26,289.01 198.84,290.33 200.01,297.27 201.19,303.22 202.95,304.21 204.12,304.71 204.71,310.83 205.88,308.35 207.05,304.38 209.99,297.93 212.92,294.30 215.85,291.82 218.78,290.16 221.72,289.01 222.30,290.33 223.47,297.27 224.65,303.22 226.41,304.21 227.58,304.71 228.17,310.83 229.34,308.35 230.51,304.38 233.45,297.93 236.38,294.30 239.31,291.82 242.24,290.16 245.18,289.01 245.76,290.33 246.93,297.27 248.11,303.22 249.87,304.21 251.04,304.71 251.63,310.83 252.80,308.35 253.97,304.38 256.90,297.93 259.84,294.30 262.77,291.82 265.70,290.16 268.63,289.01 269.22,290.33 270.39,297.27 271.57,303.22 273.33,304.21 274.50,304.71" fill="none" stroke="#88866e" stroke-width="1.15"/>
<path d="M37.90 316.96 L41.90 316.96 L39.90 319.91 Z" fill="#fff" stroke="#88866e" stroke-width="1.1" stroke-linejoin="miter"/>
<path d="M38.49 309.69 L42.49 309.69 L40.49 312.63 Z" fill="#fff" stroke="#88866e" stroke-width="1.1" stroke-linejoin="miter"/>
<path d="M39.66 307.21 L43.66 307.21 L41.66 310.15 Z" fill="#fff" stroke="#88866e" stroke-width="1.1" stroke-linejoin="miter"/>
<path d="M40.83 303.24 L44.83 303.24 L42.83 306.19 Z" fill="#fff" stroke="#88866e" stroke-width="1.1" stroke-linejoin="miter"/>
<path d="M43.77 296.79 L47.77 296.79 L45.77 299.74 Z" fill="#fff" stroke="#88866e" stroke-width="1.1" stroke-linejoin="miter"/>
<path d="M46.70 293.16 L50.70 293.16 L48.70 296.10 Z" fill="#fff" stroke="#88866e" stroke-width="1.1" stroke-linejoin="miter"/>
<path d="M49.63 290.68 L53.63 290.68 L51.63 293.62 Z" fill="#fff" stroke="#88866e" stroke-width="1.1" stroke-linejoin="miter"/>
<path d="M52.56 289.02 L56.56 289.02 L54.56 291.97 Z" fill="#fff" stroke="#88866e" stroke-width="1.1" stroke-linejoin="miter"/>
<path d="M55.49 287.87 L59.49 287.87 L57.49 290.81 Z" fill="#fff" stroke="#88866e" stroke-width="1.1" stroke-linejoin="miter"/>
<path d="M56.08 289.19 L60.08 289.19 L58.08 292.13 Z" fill="#fff" stroke="#88866e" stroke-width="1.1" stroke-linejoin="miter"/>
<path d="M57.25 296.13 L61.25 296.13 L59.25 299.08 Z" fill="#fff" stroke="#88866e" stroke-width="1.1" stroke-linejoin="miter"/>
<path d="M58.43 302.08 L62.43 302.08 L60.43 305.03 Z" fill="#fff" stroke="#88866e" stroke-width="1.1" stroke-linejoin="miter"/>
<path d="M60.19 303.07 L64.19 303.07 L62.19 306.02 Z" fill="#fff" stroke="#88866e" stroke-width="1.1" stroke-linejoin="miter"/>
<path d="M61.36 303.57 L65.36 303.57 L63.36 306.52 Z" fill="#fff" stroke="#88866e" stroke-width="1.1" stroke-linejoin="miter"/>
<path d="M61.95 309.69 L65.95 309.69 L63.95 312.63 Z" fill="#fff" stroke="#88866e" stroke-width="1.1" stroke-linejoin="miter"/>
<path d="M63.12 307.21 L67.12 307.21 L65.12 310.15 Z" fill="#fff" stroke="#88866e" stroke-width="1.1" stroke-linejoin="miter"/>
<path d="M64.29 303.24 L68.29 303.24 L66.29 306.19 Z" fill="#fff" stroke="#88866e" stroke-width="1.1" stroke-linejoin="miter"/>
<path d="M67.22 296.79 L71.22 296.79 L69.22 299.74 Z" fill="#fff" stroke="#88866e" stroke-width="1.1" stroke-linejoin="miter"/>
<path d="M70.16 293.16 L74.16 293.16 L72.16 296.10 Z" fill="#fff" stroke="#88866e" stroke-width="1.1" stroke-linejoin="miter"/>
<path d="M73.09 290.68 L77.09 290.68 L75.09 293.62 Z" fill="#fff" stroke="#88866e" stroke-width="1.1" stroke-linejoin="miter"/>
<path d="M76.02 289.02 L80.02 289.02 L78.02 291.97 Z" fill="#fff" stroke="#88866e" stroke-width="1.1" stroke-linejoin="miter"/>
<path d="M78.95 287.87 L82.95 287.87 L80.95 290.81 Z" fill="#fff" stroke="#88866e" stroke-width="1.1" stroke-linejoin="miter"/>
<path d="M79.54 289.19 L83.54 289.19 L81.54 292.13 Z" fill="#fff" stroke="#88866e" stroke-width="1.1" stroke-linejoin="miter"/>
<path d="M80.71 296.13 L84.71 296.13 L82.71 299.08 Z" fill="#fff" stroke="#88866e" stroke-width="1.1" stroke-linejoin="miter"/>
<path d="M81.89 302.08 L85.89 302.08 L83.89 305.03 Z" fill="#fff" stroke="#88866e" stroke-width="1.1" stroke-linejoin="miter"/>
<path d="M83.65 303.07 L87.65 303.07 L85.65 306.02 Z" fill="#fff" stroke="#88866e" stroke-width="1.1" stroke-linejoin="miter"/>
<path d="M84.82 303.57 L88.82 303.57 L86.82 306.52 Z" fill="#fff" stroke="#88866e" stroke-width="1.1" stroke-linejoin="miter"/>
<path d="M85.41 309.69 L89.41 309.69 L87.41 312.63 Z" fill="#fff" stroke="#88866e" stroke-width="1.1" stroke-linejoin="miter"/>
<path d="M86.58 307.21 L90.58 307.21 L88.58 310.15 Z" fill="#fff" stroke="#88866e" stroke-width="1.1" stroke-linejoin="miter"/>
<path d="M87.75 303.24 L91.75 303.24 L89.75 306.19 Z" fill="#fff" stroke="#88866e" stroke-width="1.1" stroke-linejoin="miter"/>
<path d="M90.69 296.79 L94.69 296.79 L92.69 299.74 Z" fill="#fff" stroke="#88866e" stroke-width="1.1" stroke-linejoin="miter"/>
<path d="M93.62 293.16 L97.62 293.16 L95.62 296.10 Z" fill="#fff" stroke="#88866e" stroke-width="1.1" stroke-linejoin="miter"/>
<path d="M96.55 290.68 L100.55 290.68 L98.55 293.62 Z" fill="#fff" stroke="#88866e" stroke-width="1.1" stroke-linejoin="miter"/>
<path d="M99.48 289.02 L103.48 289.02 L101.48 291.97 Z" fill="#fff" stroke="#88866e" stroke-width="1.1" stroke-linejoin="miter"/>
<path d="M102.41 287.87 L106.41 287.87 L104.41 290.81 Z" fill="#fff" stroke="#88866e" stroke-width="1.1" stroke-linejoin="miter"/>
<path d="M103.00 289.19 L107.00 289.19 L105.00 292.13 Z" fill="#fff" stroke="#88866e" stroke-width="1.1" stroke-linejoin="miter"/>
<path d="M104.17 296.13 L108.17 296.13 L106.17 299.08 Z" fill="#fff" stroke="#88866e" stroke-width="1.1" stroke-linejoin="miter"/>
<path d="M105.35 302.08 L109.35 302.08 L107.35 305.03 Z" fill="#fff" stroke="#88866e" stroke-width="1.1" stroke-linejoin="miter"/>
<path d="M107.11 303.07 L111.11 303.07 L109.11 306.02 Z" fill="#fff" stroke="#88866e" stroke-width="1.1" stroke-linejoin="miter"/>
<path d="M108.28 303.57 L112.28 303.57 L110.28 306.52 Z" fill="#fff" stroke="#88866e" stroke-width="1.1" stroke-linejoin="miter"/>
<path d="M108.87 309.69 L112.87 309.69 L110.87 312.63 Z" fill="#fff" stroke="#88866e" stroke-width="1.1" stroke-linejoin="miter"/>
<path d="M110.04 307.21 L114.04 307.21 L112.04 310.15 Z" fill="#fff" stroke="#88866e" stroke-width="1.1" stroke-linejoin="miter"/>
<path d="M111.21 303.24 L115.21 303.24 L113.21 306.19 Z" fill="#fff" stroke="#88866e" stroke-width="1.1" stroke-linejoin="miter"/>
<path d="M114.15 296.79 L118.15 296.79 L116.15 299.74 Z" fill="#fff" stroke="#88866e" stroke-width="1.1" stroke-linejoin="miter"/>
<path d="M117.08 293.16 L121.08 293.16 L119.08 296.10 Z" fill="#fff" stroke="#88866e" stroke-width="1.1" stroke-linejoin="miter"/>
<path d="M120.01 290.68 L124.01 290.68 L122.01 293.62 Z" fill="#fff" stroke="#88866e" stroke-width="1.1" stroke-linejoin="miter"/>
<path d="M122.94 289.02 L126.94 289.02 L124.94 291.97 Z" fill="#fff" stroke="#88866e" stroke-width="1.1" stroke-linejoin="miter"/>
<path d="M125.88 287.87 L129.88 287.87 L127.88 290.81 Z" fill="#fff" stroke="#88866e" stroke-width="1.1" stroke-linejoin="miter"/>
<path d="M126.46 289.19 L130.46 289.19 L128.46 292.13 Z" fill="#fff" stroke="#88866e" stroke-width="1.1" stroke-linejoin="miter"/>
<path d="M127.63 296.13 L131.63 296.13 L129.63 299.08 Z" fill="#fff" stroke="#88866e" stroke-width="1.1" stroke-linejoin="miter"/>
<path d="M128.81 302.08 L132.81 302.08 L130.81 305.03 Z" fill="#fff" stroke="#88866e" stroke-width="1.1" stroke-linejoin="miter"/>
<path d="M130.57 303.07 L134.57 303.07 L132.57 306.02 Z" fill="#fff" stroke="#88866e" stroke-width="1.1" stroke-linejoin="miter"/>
<path d="M131.74 303.57 L135.74 303.57 L133.74 306.52 Z" fill="#fff" stroke="#88866e" stroke-width="1.1" stroke-linejoin="miter"/>
<path d="M132.33 309.69 L136.33 309.69 L134.33 312.63 Z" fill="#fff" stroke="#88866e" stroke-width="1.1" stroke-linejoin="miter"/>
<path d="M133.50 307.21 L137.50 307.21 L135.50 310.15 Z" fill="#fff" stroke="#88866e" stroke-width="1.1" stroke-linejoin="miter"/>
<path d="M134.67 303.24 L138.67 303.24 L136.67 306.19 Z" fill="#fff" stroke="#88866e" stroke-width="1.1" stroke-linejoin="miter"/>
<path d="M137.60 296.79 L141.60 296.79 L139.60 299.74 Z" fill="#fff" stroke="#88866e" stroke-width="1.1" stroke-linejoin="miter"/>
<path d="M140.54 293.16 L144.54 293.16 L142.54 296.10 Z" fill="#fff" stroke="#88866e" stroke-width="1.1" stroke-linejoin="miter"/>
<path d="M143.47 290.68 L147.47 290.68 L145.47 293.62 Z" fill="#fff" stroke="#88866e" stroke-width="1.1" stroke-linejoin="miter"/>
<path d="M146.40 289.02 L150.40 289.02 L148.40 291.97 Z" fill="#fff" stroke="#88866e" stroke-width="1.1" stroke-linejoin="miter"/>
<path d="M149.34 287.87 L153.34 287.87 L151.34 290.81 Z" fill="#fff" stroke="#88866e" stroke-width="1.1" stroke-linejoin="miter"/>
<path d="M149.92 289.19 L153.92 289.19 L151.92 292.13 Z" fill="#fff" stroke="#88866e" stroke-width="1.1" stroke-linejoin="miter"/>
<path d="M151.09 296.13 L155.09 296.13 L153.09 299.08 Z" fill="#fff" stroke="#88866e" stroke-width="1.1" stroke-linejoin="miter"/>
<path d="M152.27 302.08 L156.27 302.08 L154.27 305.03 Z" fill="#fff" stroke="#88866e" stroke-width="1.1" stroke-linejoin="miter"/>
<path d="M154.03 303.07 L158.03 303.07 L156.03 306.02 Z" fill="#fff" stroke="#88866e" stroke-width="1.1" stroke-linejoin="miter"/>
<path d="M155.20 303.57 L159.20 303.57 L157.20 306.52 Z" fill="#fff" stroke="#88866e" stroke-width="1.1" stroke-linejoin="miter"/>
<path d="M155.79 309.69 L159.79 309.69 L157.79 312.63 Z" fill="#fff" stroke="#88866e" stroke-width="1.1" stroke-linejoin="miter"/>
<path d="M156.96 307.21 L160.96 307.21 L158.96 310.15 Z" fill="#fff" stroke="#88866e" stroke-width="1.1" stroke-linejoin="miter"/>
<path d="M158.13 303.24 L162.13 303.24 L160.13 306.19 Z" fill="#fff" stroke="#88866e" stroke-width="1.1" stroke-linejoin="miter"/>
<path d="M161.06 296.79 L165.06 296.79 L163.06 299.74 Z" fill="#fff" stroke="#88866e" stroke-width="1.1" stroke-linejoin="miter"/>
<path d="M164.00 293.16 L168.00 293.16 L166.00 296.10 Z" fill="#fff" stroke="#88866e" stroke-width="1.1" stroke-linejoin="miter"/>
<path d="M166.93 290.68 L170.93 290.68 L168.93 293.62 Z" fill="#fff" stroke="#88866e" stroke-width="1.1" stroke-linejoin="miter"/>
<path d="M169.86 289.02 L173.86 289.02 L171.86 291.97 Z" fill="#fff" stroke="#88866e" stroke-width="1.1" stroke-linejoin="miter"/>
<path d="M172.80 287.87 L176.80 287.87 L174.80 290.81 Z" fill="#fff" stroke="#88866e" stroke-width="1.1" stroke-linejoin="miter"/>
<path d="M173.38 289.19 L177.38 289.19 L175.38 292.13 Z" fill="#fff" stroke="#88866e" stroke-width="1.1" stroke-linejoin="miter"/>
<path d="M174.55 296.13 L178.55 296.13 L176.55 299.08 Z" fill="#fff" stroke="#88866e" stroke-width="1.1" stroke-linejoin="miter"/>
<path d="M175.73 302.08 L179.73 302.08 L177.73 305.03 Z" fill="#fff" stroke="#88866e" stroke-width="1.1" stroke-linejoin="miter"/>
<path d="M177.49 303.07 L181.49 303.07 L179.49 306.02 Z" fill="#fff" stroke="#88866e" stroke-width="1.1" stroke-linejoin="miter"/>
<path d="M178.66 303.57 L182.66 303.57 L180.66 306.52 Z" fill="#fff" stroke="#88866e" stroke-width="1.1" stroke-linejoin="miter"/>
<path d="M179.25 309.69 L183.25 309.69 L181.25 312.63 Z" fill="#fff" stroke="#88866e" stroke-width="1.1" stroke-linejoin="miter"/>
<path d="M180.42 307.21 L184.42 307.21 L182.42 310.15 Z" fill="#fff" stroke="#88866e" stroke-width="1.1" stroke-linejoin="miter"/>
<path d="M181.59 303.24 L185.59 303.24 L183.59 306.19 Z" fill="#fff" stroke="#88866e" stroke-width="1.1" stroke-linejoin="miter"/>
<path d="M184.53 296.79 L188.53 296.79 L186.53 299.74 Z" fill="#fff" stroke="#88866e" stroke-width="1.1" stroke-linejoin="miter"/>
<path d="M187.46 293.16 L191.46 293.16 L189.46 296.10 Z" fill="#fff" stroke="#88866e" stroke-width="1.1" stroke-linejoin="miter"/>
<path d="M190.39 290.68 L194.39 290.68 L192.39 293.62 Z" fill="#fff" stroke="#88866e" stroke-width="1.1" stroke-linejoin="miter"/>
<path d="M193.32 289.02 L197.32 289.02 L195.32 291.97 Z" fill="#fff" stroke="#88866e" stroke-width="1.1" stroke-linejoin="miter"/>
<path d="M196.26 287.87 L200.26 287.87 L198.26 290.81 Z" fill="#fff" stroke="#88866e" stroke-width="1.1" stroke-linejoin="miter"/>
<path d="M196.84 289.19 L200.84 289.19 L198.84 292.13 Z" fill="#fff" stroke="#88866e" stroke-width="1.1" stroke-linejoin="miter"/>
<path d="M198.01 296.13 L202.01 296.13 L200.01 299.08 Z" fill="#fff" stroke="#88866e" stroke-width="1.1" stroke-linejoin="miter"/>
<path d="M199.19 302.08 L203.19 302.08 L201.19 305.03 Z" fill="#fff" stroke="#88866e" stroke-width="1.1" stroke-linejoin="miter"/>
<path d="M200.95 303.07 L204.95 303.07 L202.95 306.02 Z" fill="#fff" stroke="#88866e" stroke-width="1.1" stroke-linejoin="miter"/>
<path d="M202.12 303.57 L206.12 303.57 L204.12 306.52 Z" fill="#fff" stroke="#88866e" stroke-width="1.1" stroke-linejoin="miter"/>
<path d="M202.71 309.69 L206.71 309.69 L204.71 312.63 Z" fill="#fff" stroke="#88866e" stroke-width="1.1" stroke-linejoin="miter"/>
<path d="M203.88 307.21 L207.88 307.21 L205.88 310.15 Z" fill="#fff" stroke="#88866e" stroke-width="1.1" stroke-linejoin="miter"/>
<path d="M205.05 303.24 L209.05 303.24 L207.05 306.19 Z" fill="#fff" stroke="#88866e" stroke-width="1.1" stroke-linejoin="miter"/>
<path d="M207.99 296.79 L211.99 296.79 L209.99 299.74 Z" fill="#fff" stroke="#88866e" stroke-width="1.1" stroke-linejoin="miter"/>
<path d="M210.92 293.16 L214.92 293.16 L212.92 296.10 Z" fill="#fff" stroke="#88866e" stroke-width="1.1" stroke-linejoin="miter"/>
<path d="M213.85 290.68 L217.85 290.68 L215.85 293.62 Z" fill="#fff" stroke="#88866e" stroke-width="1.1" stroke-linejoin="miter"/>
<path d="M216.78 289.02 L220.78 289.02 L218.78 291.97 Z" fill="#fff" stroke="#88866e" stroke-width="1.1" stroke-linejoin="miter"/>
<path d="M219.72 287.87 L223.72 287.87 L221.72 290.81 Z" fill="#fff" stroke="#88866e" stroke-width="1.1" stroke-linejoin="miter"/>
<path d="M220.30 289.19 L224.30 289.19 L222.30 292.13 Z" fill="#fff" stroke="#88866e" stroke-width="1.1" stroke-linejoin="miter"/>
<path d="M221.47 296.13 L225.47 296.13 L223.47 299.08 Z" fill="#fff" stroke="#88866e" stroke-width="1.1" stroke-linejoin="miter"/>
<path d="M222.65 302.08 L226.65 302.08 L224.65 305.03 Z" fill="#fff" stroke="#88866e" stroke-width="1.1" stroke-linejoin="miter"/>
<path d="M224.41 303.07 L228.41 303.07 L226.41 306.02 Z" fill="#fff" stroke="#88866e" stroke-width="1.1" stroke-linejoin="miter"/>
<path d="M225.58 303.57 L229.58 303.57 L227.58 306.52 Z" fill="#fff" stroke="#88866e" stroke-width="1.1" stroke-linejoin="miter"/>
<path d="M226.17 309.69 L230.17 309.69 L228.17 312.63 Z" fill="#fff" stroke="#88866e" stroke-width="1.1" stroke-linejoin="miter"/>
<path d="M227.34 307.21 L231.34 307.21 L229.34 310.15 Z" fill="#fff" stroke="#88866e" stroke-width="1.1" stroke-linejoin="miter"/>
<path d="M228.51 303.24 L232.51 303.24 L230.51 306.19 Z" fill="#fff" stroke="#88866e" stroke-width="1.1" stroke-linejoin="miter"/>
<path d="M231.45 296.79 L235.45 296.79 L233.45 299.74 Z" fill="#fff" stroke="#88866e" stroke-width="1.1" stroke-linejoin="miter"/>
<path d="M234.38 293.16 L238.38 293.16 L236.38 296.10 Z" fill="#fff" stroke="#88866e" stroke-width="1.1" stroke-linejoin="miter"/>
<path d="M237.31 290.68 L241.31 290.68 L239.31 293.62 Z" fill="#fff" stroke="#88866e" stroke-width="1.1" stroke-linejoin="miter"/>
<path d="M240.24 289.02 L244.24 289.02 L242.24 291.97 Z" fill="#fff" stroke="#88866e" stroke-width="1.1" stroke-linejoin="miter"/>
<path d="M243.18 287.87 L247.18 287.87 L245.18 290.81 Z" fill="#fff" stroke="#88866e" stroke-width="1.1" stroke-linejoin="miter"/>
<path d="M243.76 289.19 L247.76 289.19 L245.76 292.13 Z" fill="#fff" stroke="#88866e" stroke-width="1.1" stroke-linejoin="miter"/>
<path d="M244.93 296.13 L248.93 296.13 L246.93 299.08 Z" fill="#fff" stroke="#88866e" stroke-width="1.1" stroke-linejoin="miter"/>
<path d="M246.11 302.08 L250.11 302.08 L248.11 305.03 Z" fill="#fff" stroke="#88866e" stroke-width="1.1" stroke-linejoin="miter"/>
<path d="M247.87 303.07 L251.87 303.07 L249.87 306.02 Z" fill="#fff" stroke="#88866e" stroke-width="1.1" stroke-linejoin="miter"/>
<path d="M249.04 303.57 L253.04 303.57 L251.04 306.52 Z" fill="#fff" stroke="#88866e" stroke-width="1.1" stroke-linejoin="miter"/>
<path d="M249.63 309.69 L253.63 309.69 L251.63 312.63 Z" fill="#fff" stroke="#88866e" stroke-width="1.1" stroke-linejoin="miter"/>
<path d="M250.80 307.21 L254.80 307.21 L252.80 310.15 Z" fill="#fff" stroke="#88866e" stroke-width="1.1" stroke-linejoin="miter"/>
<path d="M251.97 303.24 L255.97 303.24 L253.97 306.19 Z" fill="#fff" stroke="#88866e" stroke-width="1.1" stroke-linejoin="miter"/>
<path d="M254.90 296.79 L258.90 296.79 L256.90 299.74 Z" fill="#fff" stroke="#88866e" stroke-width="1.1" stroke-linejoin="miter"/>
<path d="M257.84 293.16 L261.84 293.16 L259.84 296.10 Z" fill="#fff" stroke="#88866e" stroke-width="1.1" stroke-linejoin="miter"/>
<path d="M260.77 290.68 L264.77 290.68 L262.77 293.62 Z" fill="#fff" stroke="#88866e" stroke-width="1.1" stroke-linejoin="miter"/>
<path d="M263.70 289.02 L267.70 289.02 L265.70 291.97 Z" fill="#fff" stroke="#88866e" stroke-width="1.1" stroke-linejoin="miter"/>
<path d="M266.63 287.87 L270.63 287.87 L268.63 290.81 Z" fill="#fff" stroke="#88866e" stroke-width="1.1" stroke-linejoin="miter"/>
<path d="M267.22 289.19 L271.22 289.19 L269.22 292.13 Z" fill="#fff" stroke="#88866e" stroke-width="1.1" stroke-linejoin="miter"/>
<path d="M268.39 296.13 L272.39 296.13 L270.39 299.08 Z" fill="#fff" stroke="#88866e" stroke-width="1.1" stroke-linejoin="miter"/>
<path d="M269.57 302.08 L273.57 302.08 L271.57 305.03 Z" fill="#fff" stroke="#88866e" stroke-width="1.1" stroke-linejoin="miter"/>
<path d="M271.33 303.07 L275.33 303.07 L273.33 306.02 Z" fill="#fff" stroke="#88866e" stroke-width="1.1" stroke-linejoin="miter"/>
<path d="M272.50 303.57 L276.50 303.57 L274.50 306.52 Z" fill="#fff" stroke="#88866e" stroke-width="1.1" stroke-linejoin="miter"/>
<polyline points="39.90,318.10 40.49,300.74 41.66,294.79 42.83,288.84 45.77,281.40 48.70,278.26 51.63,277.44 54.56,276.94 57.49,276.61 58.08,293.47 59.25,301.74 60.43,306.36 62.19,308.18 63.36,309.67 63.95,300.74 65.12,294.79 66.29,288.84 69.22,281.40 72.16,278.26 75.09,277.44 78.02,276.94 80.95,276.61 81.54,293.47 82.71,301.74 83.89,306.36 85.65,308.18 86.82,309.67 87.41,300.74 88.58,294.79 89.75,288.84 92.69,281.40 95.62,278.26 98.55,277.44 101.48,276.94 104.41,276.61 105.00,293.47 106.17,301.74 107.35,306.36 109.11,308.18 110.28,309.67 110.87,300.74 112.04,294.79 113.21,288.84 116.15,281.40 119.08,278.26 122.01,277.44 124.94,276.94 127.88,276.61 128.46,293.47 129.63,301.74 130.81,306.36 132.57,308.18 133.74,309.67 134.33,300.74 135.50,294.79 136.67,288.84 139.60,281.40 142.54,278.26 145.47,277.44 148.40,276.94 151.34,276.61 151.92,293.47 153.09,301.74 154.27,306.36 156.03,308.18 157.20,309.67 157.79,300.74 158.96,294.79 160.13,288.84 163.06,281.40 166.00,278.26 168.93,277.44 171.86,276.94 174.80,276.61 175.38,293.47 176.55,301.74 177.73,306.36 179.49,308.18 180.66,309.67 181.25,300.74 182.42,294.79 183.59,288.84 186.53,281.40 189.46,278.26 192.39,277.44 195.32,276.94 198.26,276.61 198.84,293.47 200.01,301.74 201.19,306.36 202.95,308.18 204.12,309.67 204.71,300.74 205.88,294.79 207.05,288.84 209.99,281.40 212.92,278.26 215.85,277.44 218.78,276.94 221.72,276.61 222.30,293.47 223.47,301.74 224.65,306.36 226.41,308.18 227.58,309.67 228.17,300.74 229.34,294.79 230.51,288.84 233.45,281.40 236.38,278.26 239.31,277.44 242.24,276.94 245.18,276.61 245.76,293.47 246.93,301.74 248.11,306.36 249.87,308.18 251.04,309.67 251.63,300.74 252.80,294.79 253.97,288.84 256.90,281.40 259.84,278.26 262.77,277.44 265.70,276.94 268.63,276.61 269.22,293.47 270.39,301.74 271.57,306.36 273.33,308.18 274.50,309.67" fill="none" stroke="#f01a30" stroke-width="1.15"/>
<circle cx="39.90" cy="318.10" r="1.85" fill="#fff" stroke="#f01a30" stroke-width="1.1"/>
<circle cx="40.49" cy="300.74" r="1.85" fill="#fff" stroke="#f01a30" stroke-width="1.1"/>
<circle cx="41.66" cy="294.79" r="1.85" fill="#fff" stroke="#f01a30" stroke-width="1.1"/>
<circle cx="42.83" cy="288.84" r="1.85" fill="#fff" stroke="#f01a30" stroke-width="1.1"/>
<circle cx="45.77" cy="281.40" r="1.85" fill="#fff" stroke="#f01a30" stroke-width="1.1"/>
<circle cx="48.70" cy="278.26" r="1.85" fill="#fff" stroke="#f01a30" stroke-width="1.1"/>
<circle cx="51.63" cy="277.44" r="1.85" fill="#fff" stroke="#f01a30" stroke-width="1.1"/>
<circle cx="54.56" cy="276.94" r="1.85" fill="#fff" stroke="#f01a30" stroke-width="1.1"/>
<circle cx="57.49" cy="276.61" r="1.85" fill="#fff" stroke="#f01a30" stroke-width="1.1"/>
<circle cx="58.08" cy="293.47" r="1.85" fill="#fff" stroke="#f01a30" stroke-width="1.1"/>
<circle cx="59.25" cy="301.74" r="1.85" fill="#fff" stroke="#f01a30" stroke-width="1.1"/>
<circle cx="60.43" cy="306.36" r="1.85" fill="#fff" stroke="#f01a30" stroke-width="1.1"/>
<circle cx="62.19" cy="308.18" r="1.85" fill="#fff" stroke="#f01a30" stroke-width="1.1"/>
<circle cx="63.36" cy="309.67" r="1.85" fill="#fff" stroke="#f01a30" stroke-width="1.1"/>
<circle cx="63.95" cy="300.74" r="1.85" fill="#fff" stroke="#f01a30" stroke-width="1.1"/>
<circle cx="65.12" cy="294.79" r="1.85" fill="#fff" stroke="#f01a30" stroke-width="1.1"/>
<circle cx="66.29" cy="288.84" r="1.85" fill="#fff" stroke="#f01a30" stroke-width="1.1"/>
<circle cx="69.22" cy="281.40" r="1.85" fill="#fff" stroke="#f01a30" stroke-width="1.1"/>
<circle cx="72.16" cy="278.26" r="1.85" fill="#fff" stroke="#f01a30" stroke-width="1.1"/>
<circle cx="75.09" cy="277.44" r="1.85" fill="#fff" stroke="#f01a30" stroke-width="1.1"/>
<circle cx="78.02" cy="276.94" r="1.85" fill="#fff" stroke="#f01a30" stroke-width="1.1"/>
<circle cx="80.95" cy="276.61" r="1.85" fill="#fff" stroke="#f01a30" stroke-width="1.1"/>
<circle cx="81.54" cy="293.47" r="1.85" fill="#fff" stroke="#f01a30" stroke-width="1.1"/>
<circle cx="82.71" cy="301.74" r="1.85" fill="#fff" stroke="#f01a30" stroke-width="1.1"/>
<circle cx="83.89" cy="306.36" r="1.85" fill="#fff" stroke="#f01a30" stroke-width="1.1"/>
<circle cx="85.65" cy="308.18" r="1.85" fill="#fff" stroke="#f01a30" stroke-width="1.1"/>
<circle cx="86.82" cy="309.67" r="1.85" fill="#fff" stroke="#f01a30" stroke-width="1.1"/>
<circle cx="87.41" cy="300.74" r="1.85" fill="#fff" stroke="#f01a30" stroke-width="1.1"/>
<circle cx="88.58" cy="294.79" r="1.85" fill="#fff" stroke="#f01a30" stroke-width="1.1"/>
<circle cx="89.75" cy="288.84" r="1.85" fill="#fff" stroke="#f01a30" stroke-width="1.1"/>
<circle cx="92.69" cy="281.40" r="1.85" fill="#fff" stroke="#f01a30" stroke-width="1.1"/>
<circle cx="95.62" cy="278.26" r="1.85" fill="#fff" stroke="#f01a30" stroke-width="1.1"/>
<circle cx="98.55" cy="277.44" r="1.85" fill="#fff" stroke="#f01a30" stroke-width="1.1"/>
<circle cx="101.48" cy="276.94" r="1.85" fill="#fff" stroke="#f01a30" stroke-width="1.1"/>
<circle cx="104.41" cy="276.61" r="1.85" fill="#fff" stroke="#f01a30" stroke-width="1.1"/>
<circle cx="105.00" cy="293.47" r="1.85" fill="#fff" stroke="#f01a30" stroke-width="1.1"/>
<circle cx="106.17" cy="301.74" r="1.85" fill="#fff" stroke="#f01a30" stroke-width="1.1"/>
<circle cx="107.35" cy="306.36" r="1.85" fill="#fff" stroke="#f01a30" stroke-width="1.1"/>
<circle cx="109.11" cy="308.18" r="1.85" fill="#fff" stroke="#f01a30" stroke-width="1.1"/>
<circle cx="110.28" cy="309.67" r="1.85" fill="#fff" stroke="#f01a30" stroke-width="1.1"/>
<circle cx="110.87" cy="300.74" r="1.85" fill="#fff" stroke="#f01a30" stroke-width="1.1"/>
<circle cx="112.04" cy="294.79" r="1.85" fill="#fff" stroke="#f01a30" stroke-width="1.1"/>
<circle cx="113.21" cy="288.84" r="1.85" fill="#fff" stroke="#f01a30" stroke-width="1.1"/>
<circle cx="116.15" cy="281.40" r="1.85" fill="#fff" stroke="#f01a30" stroke-width="1.1"/>
<circle cx="119.08" cy="278.26" r="1.85" fill="#fff" stroke="#f01a30" stroke-width="1.1"/>
<circle cx="122.01" cy="277.44" r="1.85" fill="#fff" stroke="#f01a30" stroke-width="1.1"/>
<circle cx="124.94" cy="276.94" r="1.85" fill="#fff" stroke="#f01a30" stroke-width="1.1"/>
<circle cx="127.88" cy="276.61" r="1.85" fill="#fff" stroke="#f01a30" stroke-width="1.1"/>
<circle cx="128.46" cy="293.47" r="1.85" fill="#fff" stroke="#f01a30" stroke-width="1.1"/>
<circle cx="129.63" cy="301.74" r="1.85" fill="#fff" stroke="#f01a30" stroke-width="1.1"/>
<circle cx="130.81" cy="306.36" r="1.85" fill="#fff" stroke="#f01a30" stroke-width="1.1"/>
<circle cx="132.57" cy="308.18" r="1.85" fill="#fff" stroke="#f01a30" stroke-width="1.1"/>
<circle cx="133.74" cy="309.67" r="1.85" fill="#fff" stroke="#f01a30" stroke-width="1.1"/>
<circle cx="134.33" cy="300.74" r="1.85" fill="#fff" stroke="#f01a30" stroke-width="1.1"/>
<circle cx="135.50" cy="294.79" r="1.85" fill="#fff" stroke="#f01a30" stroke-width="1.1"/>
<circle cx="136.67" cy="288.84" r="1.85" fill="#fff" stroke="#f01a30" stroke-width="1.1"/>
<circle cx="139.60" cy="281.40" r="1.85" fill="#fff" stroke="#f01a30" stroke-width="1.1"/>
<circle cx="142.54" cy="278.26" r="1.85" fill="#fff" stroke="#f01a30" stroke-width="1.1"/>
<circle cx="145.47" cy="277.44" r="1.85" fill="#fff" stroke="#f01a30" stroke-width="1.1"/>
<circle cx="148.40" cy="276.94" r="1.85" fill="#fff" stroke="#f01a30" stroke-width="1.1"/>
<circle cx="151.34" cy="276.61" r="1.85" fill="#fff" stroke="#f01a30" stroke-width="1.1"/>
<circle cx="151.92" cy="293.47" r="1.85" fill="#fff" stroke="#f01a30" stroke-width="1.1"/>
<circle cx="153.09" cy="301.74" r="1.85" fill="#fff" stroke="#f01a30" stroke-width="1.1"/>
<circle cx="154.27" cy="306.36" r="1.85" fill="#fff" stroke="#f01a30" stroke-width="1.1"/>
<circle cx="156.03" cy="308.18" r="1.85" fill="#fff" stroke="#f01a30" stroke-width="1.1"/>
<circle cx="157.20" cy="309.67" r="1.85" fill="#fff" stroke="#f01a30" stroke-width="1.1"/>
<circle cx="157.79" cy="300.74" r="1.85" fill="#fff" stroke="#f01a30" stroke-width="1.1"/>
<circle cx="158.96" cy="294.79" r="1.85" fill="#fff" stroke="#f01a30" stroke-width="1.1"/>
<circle cx="160.13" cy="288.84" r="1.85" fill="#fff" stroke="#f01a30" stroke-width="1.1"/>
<circle cx="163.06" cy="281.40" r="1.85" fill="#fff" stroke="#f01a30" stroke-width="1.1"/>
<circle cx="166.00" cy="278.26" r="1.85" fill="#fff" stroke="#f01a30" stroke-width="1.1"/>
<circle cx="168.93" cy="277.44" r="1.85" fill="#fff" stroke="#f01a30" stroke-width="1.1"/>
<circle cx="171.86" cy="276.94" r="1.85" fill="#fff" stroke="#f01a30" stroke-width="1.1"/>
<circle cx="174.80" cy="276.61" r="1.85" fill="#fff" stroke="#f01a30" stroke-width="1.1"/>
<circle cx="175.38" cy="293.47" r="1.85" fill="#fff" stroke="#f01a30" stroke-width="1.1"/>
<circle cx="176.55" cy="301.74" r="1.85" fill="#fff" stroke="#f01a30" stroke-width="1.1"/>
<circle cx="177.73" cy="306.36" r="1.85" fill="#fff" stroke="#f01a30" stroke-width="1.1"/>
<circle cx="179.49" cy="308.18" r="1.85" fill="#fff" stroke="#f01a30" stroke-width="1.1"/>
<circle cx="180.66" cy="309.67" r="1.85" fill="#fff" stroke="#f01a30" stroke-width="1.1"/>
<circle cx="181.25" cy="300.74" r="1.85" fill="#fff" stroke="#f01a30" stroke-width="1.1"/>
<circle cx="182.42" cy="294.79" r="1.85" fill="#fff" stroke="#f01a30" stroke-width="1.1"/>
<circle cx="183.59" cy="288.84" r="1.85" fill="#fff" stroke="#f01a30" stroke-width="1.1"/>
<circle cx="186.53" cy="281.40" r="1.85" fill="#fff" stroke="#f01a30" stroke-width="1.1"/>
<circle cx="189.46" cy="278.26" r="1.85" fill="#fff" stroke="#f01a30" stroke-width="1.1"/>
<circle cx="192.39" cy="277.44" r="1.85" fill="#fff" stroke="#f01a30" stroke-width="1.1"/>
<circle cx="195.32" cy="276.94" r="1.85" fill="#fff" stroke="#f01a30" stroke-width="1.1"/>
<circle cx="198.26" cy="276.61" r="1.85" fill="#fff" stroke="#f01a30" stroke-width="1.1"/>
<circle cx="198.84" cy="293.47" r="1.85" fill="#fff" stroke="#f01a30" stroke-width="1.1"/>
<circle cx="200.01" cy="301.74" r="1.85" fill="#fff" stroke="#f01a30" stroke-width="1.1"/>
<circle cx="201.19" cy="306.36" r="1.85" fill="#fff" stroke="#f01a30" stroke-width="1.1"/>
<circle cx="202.95" cy="308.18" r="1.85" fill="#fff" stroke="#f01a30" stroke-width="1.1"/>
<circle cx="204.12" cy="309.67" r="1.85" fill="#fff" stroke="#f01a30" stroke-width="1.1"/>
<circle cx="204.71" cy="300.74" r="1.85" fill="#fff" stroke="#f01a30" stroke-width="1.1"/>
<circle cx="205.88" cy="294.79" r="1.85" fill="#fff" stroke="#f01a30" stroke-width="1.1"/>
<circle cx="207.05" cy="288.84" r="1.85" fill="#fff" stroke="#f01a30" stroke-width="1.1"/>
<circle cx="209.99" cy="281.40" r="1.85" fill="#fff" stroke="#f01a30" stroke-width="1.1"/>
<circle cx="212.92" cy="278.26" r="1.85" fill="#fff" stroke="#f01a30" stroke-width="1.1"/>
<circle cx="215.85" cy="277.44" r="1.85" fill="#fff" stroke="#f01a30" stroke-width="1.1"/>
<circle cx="218.78" cy="276.94" r="1.85" fill="#fff" stroke="#f01a30" stroke-width="1.1"/>
<circle cx="221.72" cy="276.61" r="1.85" fill="#fff" stroke="#f01a30" stroke-width="1.1"/>
<circle cx="222.30" cy="293.47" r="1.85" fill="#fff" stroke="#f01a30" stroke-width="1.1"/>
<circle cx="223.47" cy="301.74" r="1.85" fill="#fff" stroke="#f01a30" stroke-width="1.1"/>
<circle cx="224.65" cy="306.36" r="1.85" fill="#fff" stroke="#f01a30" stroke-width="1.1"/>
<circle cx="226.41" cy="308.18" r="1.85" fill="#fff" stroke="#f01a30" stroke-width="1.1"/>
<circle cx="227.58" cy="309.67" r="1.85" fill="#fff" stroke="#f01a30" stroke-width="1.1"/>
<circle cx="228.17" cy="300.74" r="1.85" fill="#fff" stroke="#f01a30" stroke-width="1.1"/>
<circle cx="229.34" cy="294.79" r="1.85" fill="#fff" stroke="#f01a30" stroke-width="1.1"/>
<circle cx="230.51" cy="288.84" r="1.85" fill="#fff" stroke="#f01a30" stroke-width="1.1"/>
<circle cx="233.45" cy="281.40" r="1.85" fill="#fff" stroke="#f01a30" stroke-width="1.1"/>
<circle cx="236.38" cy="278.26" r="1.85" fill="#fff" stroke="#f01a30" stroke-width="1.1"/>
<circle cx="239.31" cy="277.44" r="1.85" fill="#fff" stroke="#f01a30" stroke-width="1.1"/>
<circle cx="242.24" cy="276.94" r="1.85" fill="#fff" stroke="#f01a30" stroke-width="1.1"/>
<circle cx="245.18" cy="276.61" r="1.85" fill="#fff" stroke="#f01a30" stroke-width="1.1"/>
<circle cx="245.76" cy="293.47" r="1.85" fill="#fff" stroke="#f01a30" stroke-width="1.1"/>
<circle cx="246.93" cy="301.74" r="1.85" fill="#fff" stroke="#f01a30" stroke-width="1.1"/>
<circle cx="248.11" cy="306.36" r="1.85" fill="#fff" stroke="#f01a30" stroke-width="1.1"/>
<circle cx="249.87" cy="308.18" r="1.85" fill="#fff" stroke="#f01a30" stroke-width="1.1"/>
<circle cx="251.04" cy="309.67" r="1.85" fill="#fff" stroke="#f01a30" stroke-width="1.1"/>
<circle cx="251.63" cy="300.74" r="1.85" fill="#fff" stroke="#f01a30" stroke-width="1.1"/>
<circle cx="252.80" cy="294.79" r="1.85" fill="#fff" stroke="#f01a30" stroke-width="1.1"/>
<circle cx="253.97" cy="288.84" r="1.85" fill="#fff" stroke="#f01a30" stroke-width="1.1"/>
<circle cx="256.90" cy="281.40" r="1.85" fill="#fff" stroke="#f01a30" stroke-width="1.1"/>
<circle cx="259.84" cy="278.26" r="1.85" fill="#fff" stroke="#f01a30" stroke-width="1.1"/>
<circle cx="262.77" cy="277.44" r="1.85" fill="#fff" stroke="#f01a30" stroke-width="1.1"/>
<circle cx="265.70" cy="276.94" r="1.85" fill="#fff" stroke="#f01a30" stroke-width="1.1"/>
<circle cx="268.63" cy="276.61" r="1.85" fill="#fff" stroke="#f01a30" stroke-width="1.1"/>
<circle cx="269.22" cy="293.47" r="1.85" fill="#fff" stroke="#f01a30" stroke-width="1.1"/>
<circle cx="270.39" cy="301.74" r="1.85" fill="#fff" stroke="#f01a30" stroke-width="1.1"/>
<circle cx="271.57" cy="306.36" r="1.85" fill="#fff" stroke="#f01a30" stroke-width="1.1"/>
<circle cx="273.33" cy="308.18" r="1.85" fill="#fff" stroke="#f01a30" stroke-width="1.1"/>
<circle cx="274.50" cy="309.67" r="1.85" fill="#fff" stroke="#f01a30" stroke-width="1.1"/>
<polyline points="39.90,318.10 40.49,288.35 41.66,269.17 42.83,260.91 45.77,254.46 48.70,250.66 51.63,249.83 54.56,249.00 57.49,249.00 58.08,270.82 59.25,294.96 60.43,309.01 62.19,314.63 63.36,316.45 63.95,288.35 65.12,269.17 66.29,260.91 69.22,254.46 72.16,250.66 75.09,249.83 78.02,249.00 80.95,249.00 81.54,270.82 82.71,294.96 83.89,309.01 85.65,314.63 86.82,316.45 87.41,288.35 88.58,269.17 89.75,260.91 92.69,254.46 95.62,250.66 98.55,249.83 101.48,249.00 104.41,249.00 105.00,270.82 106.17,294.96 107.35,309.01 109.11,314.63 110.28,316.45 110.87,288.35 112.04,269.17 113.21,260.91 116.15,254.46 119.08,250.66 122.01,249.83 124.94,249.00 127.88,249.00 128.46,270.82 129.63,294.96 130.81,309.01 132.57,314.63 133.74,316.45 134.33,288.35 135.50,269.17 136.67,260.91 139.60,254.46 142.54,250.66 145.47,249.83 148.40,249.00 151.34,249.00 151.92,270.82 153.09,294.96 154.27,309.01 156.03,314.63 157.20,316.45 157.79,288.35 158.96,269.17 160.13,260.91 163.06,254.46 166.00,250.66 168.93,249.83 171.86,249.00 174.80,249.00 175.38,270.82 176.55,294.96 177.73,309.01 179.49,314.63 180.66,316.45 181.25,288.35 182.42,269.17 183.59,260.91 186.53,254.46 189.46,250.66 192.39,249.83 195.32,249.00 198.26,249.00 198.84,270.82 200.01,294.96 201.19,309.01 202.95,314.63 204.12,316.45 204.71,288.35 205.88,269.17 207.05,260.91 209.99,254.46 212.92,250.66 215.85,249.83 218.78,249.00 221.72,249.00 222.30,270.82 223.47,294.96 224.65,309.01 226.41,314.63 227.58,316.45 228.17,288.35 229.34,269.17 230.51,260.91 233.45,254.46 236.38,250.66 239.31,249.83 242.24,249.00 245.18,249.00 245.76,270.82 246.93,294.96 248.11,309.01 249.87,314.63 251.04,316.45 251.63,288.35 252.80,269.17 253.97,260.91 256.90,254.46 259.84,250.66 262.77,249.83 265.70,249.00 268.63,249.00 269.22,270.82 270.39,294.96 271.57,309.01 273.33,314.63 274.50,316.45" fill="none" stroke="#46c9a2" stroke-width="1.15"/>
<path d="M39.90 315.75 L42.25 318.10 L39.90 320.45 L37.55 318.10 Z" fill="#fff" stroke="#46c9a2" stroke-width="1.1"/>
<path d="M40.49 286.00 L42.84 288.35 L40.49 290.70 L38.14 288.35 Z" fill="#fff" stroke="#46c9a2" stroke-width="1.1"/>
<path d="M41.66 266.82 L44.01 269.17 L41.66 271.52 L39.31 269.17 Z" fill="#fff" stroke="#46c9a2" stroke-width="1.1"/>
<path d="M42.83 258.56 L45.18 260.91 L42.83 263.26 L40.48 260.91 Z" fill="#fff" stroke="#46c9a2" stroke-width="1.1"/>
<path d="M45.77 252.11 L48.12 254.46 L45.77 256.81 L43.41 254.46 Z" fill="#fff" stroke="#46c9a2" stroke-width="1.1"/>
<path d="M48.70 248.31 L51.05 250.66 L48.70 253.01 L46.35 250.66 Z" fill="#fff" stroke="#46c9a2" stroke-width="1.1"/>
<path d="M51.63 247.48 L53.98 249.83 L51.63 252.18 L49.28 249.83 Z" fill="#fff" stroke="#46c9a2" stroke-width="1.1"/>
<path d="M54.56 246.65 L56.91 249.00 L54.56 251.35 L52.21 249.00 Z" fill="#fff" stroke="#46c9a2" stroke-width="1.1"/>
<path d="M57.49 246.65 L59.84 249.00 L57.49 251.35 L55.14 249.00 Z" fill="#fff" stroke="#46c9a2" stroke-width="1.1"/>
<path d="M58.08 268.47 L60.43 270.82 L58.08 273.17 L55.73 270.82 Z" fill="#fff" stroke="#46c9a2" stroke-width="1.1"/>
<path d="M59.25 292.61 L61.60 294.96 L59.25 297.31 L56.90 294.96 Z" fill="#fff" stroke="#46c9a2" stroke-width="1.1"/>
<path d="M60.43 306.66 L62.78 309.01 L60.43 311.36 L58.08 309.01 Z" fill="#fff" stroke="#46c9a2" stroke-width="1.1"/>
<path d="M62.19 312.28 L64.54 314.63 L62.19 316.98 L59.84 314.63 Z" fill="#fff" stroke="#46c9a2" stroke-width="1.1"/>
<path d="M63.36 314.10 L65.71 316.45 L63.36 318.80 L61.01 316.45 Z" fill="#fff" stroke="#46c9a2" stroke-width="1.1"/>
<path d="M63.95 286.00 L66.30 288.35 L63.95 290.70 L61.60 288.35 Z" fill="#fff" stroke="#46c9a2" stroke-width="1.1"/>
<path d="M65.12 266.82 L67.47 269.17 L65.12 271.52 L62.77 269.17 Z" fill="#fff" stroke="#46c9a2" stroke-width="1.1"/>
<path d="M66.29 258.56 L68.64 260.91 L66.29 263.26 L63.94 260.91 Z" fill="#fff" stroke="#46c9a2" stroke-width="1.1"/>
<path d="M69.22 252.11 L71.57 254.46 L69.22 256.81 L66.88 254.46 Z" fill="#fff" stroke="#46c9a2" stroke-width="1.1"/>
<path d="M72.16 248.31 L74.51 250.66 L72.16 253.01 L69.81 250.66 Z" fill="#fff" stroke="#46c9a2" stroke-width="1.1"/>
<path d="M75.09 247.48 L77.44 249.83 L75.09 252.18 L72.74 249.83 Z" fill="#fff" stroke="#46c9a2" stroke-width="1.1"/>
<path d="M78.02 246.65 L80.37 249.00 L78.02 251.35 L75.67 249.00 Z" fill="#fff" stroke="#46c9a2" stroke-width="1.1"/>
<path d="M80.95 246.65 L83.30 249.00 L80.95 251.35 L78.61 249.00 Z" fill="#fff" stroke="#46c9a2" stroke-width="1.1"/>
<path d="M81.54 268.47 L83.89 270.82 L81.54 273.17 L79.19 270.82 Z" fill="#fff" stroke="#46c9a2" stroke-width="1.1"/>
<path d="M82.71 292.61 L85.06 294.96 L82.71 297.31 L80.36 294.96 Z" fill="#fff" stroke="#46c9a2" stroke-width="1.1"/>
<path d="M83.89 306.66 L86.24 309.01 L83.89 311.36 L81.54 309.01 Z" fill="#fff" stroke="#46c9a2" stroke-width="1.1"/>
<path d="M85.65 312.28 L88.00 314.63 L85.65 316.98 L83.30 314.63 Z" fill="#fff" stroke="#46c9a2" stroke-width="1.1"/>
<path d="M86.82 314.10 L89.17 316.45 L86.82 318.80 L84.47 316.45 Z" fill="#fff" stroke="#46c9a2" stroke-width="1.1"/>
<path d="M87.41 286.00 L89.76 288.35 L87.41 290.70 L85.06 288.35 Z" fill="#fff" stroke="#46c9a2" stroke-width="1.1"/>
<path d="M88.58 266.82 L90.93 269.17 L88.58 271.52 L86.23 269.17 Z" fill="#fff" stroke="#46c9a2" stroke-width="1.1"/>
<path d="M89.75 258.56 L92.10 260.91 L89.75 263.26 L87.40 260.91 Z" fill="#fff" stroke="#46c9a2" stroke-width="1.1"/>
<path d="M92.69 252.11 L95.03 254.46 L92.69 256.81 L90.34 254.46 Z" fill="#fff" stroke="#46c9a2" stroke-width="1.1"/>
<path d="M95.62 248.31 L97.97 250.66 L95.62 253.01 L93.27 250.66 Z" fill="#fff" stroke="#46c9a2" stroke-width="1.1"/>
<path d="M98.55 247.48 L100.90 249.83 L98.55 252.18 L96.20 249.83 Z" fill="#fff" stroke="#46c9a2" stroke-width="1.1"/>
<path d="M101.48 246.65 L103.83 249.00 L101.48 251.35 L99.13 249.00 Z" fill="#fff" stroke="#46c9a2" stroke-width="1.1"/>
<path d="M104.41 246.65 L106.76 249.00 L104.41 251.35 L102.06 249.00 Z" fill="#fff" stroke="#46c9a2" stroke-width="1.1"/>
<path d="M105.00 268.47 L107.35 270.82 L105.00 273.17 L102.65 270.82 Z" fill="#fff" stroke="#46c9a2" stroke-width="1.1"/>
<path d="M106.17 292.61 L108.52 294.96 L106.17 297.31 L103.82 294.96 Z" fill="#fff" stroke="#46c9a2" stroke-width="1.1"/>
<path d="M107.35 306.66 L109.70 309.01 L107.35 311.36 L105.00 309.01 Z" fill="#fff" stroke="#46c9a2" stroke-width="1.1"/>
<path d="M109.11 312.28 L111.46 314.63 L109.11 316.98 L106.76 314.63 Z" fill="#fff" stroke="#46c9a2" stroke-width="1.1"/>
<path d="M110.28 314.10 L112.63 316.45 L110.28 318.80 L107.93 316.45 Z" fill="#fff" stroke="#46c9a2" stroke-width="1.1"/>
<path d="M110.87 286.00 L113.22 288.35 L110.87 290.70 L108.52 288.35 Z" fill="#fff" stroke="#46c9a2" stroke-width="1.1"/>
<path d="M112.04 266.82 L114.39 269.17 L112.04 271.52 L109.69 269.17 Z" fill="#fff" stroke="#46c9a2" stroke-width="1.1"/>
<path d="M113.21 258.56 L115.56 260.91 L113.21 263.26 L110.86 260.91 Z" fill="#fff" stroke="#46c9a2" stroke-width="1.1"/>
<path d="M116.15 252.11 L118.50 254.46 L116.15 256.81 L113.80 254.46 Z" fill="#fff" stroke="#46c9a2" stroke-width="1.1"/>
<path d="M119.08 248.31 L121.43 250.66 L119.08 253.01 L116.73 250.66 Z" fill="#fff" stroke="#46c9a2" stroke-width="1.1"/>
<path d="M122.01 247.48 L124.36 249.83 L122.01 252.18 L119.66 249.83 Z" fill="#fff" stroke="#46c9a2" stroke-width="1.1"/>
<path d="M124.94 246.65 L127.29 249.00 L124.94 251.35 L122.59 249.00 Z" fill="#fff" stroke="#46c9a2" stroke-width="1.1"/>
<path d="M127.88 246.65 L130.22 249.00 L127.88 251.35 L125.53 249.00 Z" fill="#fff" stroke="#46c9a2" stroke-width="1.1"/>
<path d="M128.46 268.47 L130.81 270.82 L128.46 273.17 L126.11 270.82 Z" fill="#fff" stroke="#46c9a2" stroke-width="1.1"/>
<path d="M129.63 292.61 L131.98 294.96 L129.63 297.31 L127.28 294.96 Z" fill="#fff" stroke="#46c9a2" stroke-width="1.1"/>
<path d="M130.81 306.66 L133.16 309.01 L130.81 311.36 L128.46 309.01 Z" fill="#fff" stroke="#46c9a2" stroke-width="1.1"/>
<path d="M132.57 312.28 L134.92 314.63 L132.57 316.98 L130.22 314.63 Z" fill="#fff" stroke="#46c9a2" stroke-width="1.1"/>
<path d="M133.74 314.10 L136.09 316.45 L133.74 318.80 L131.39 316.45 Z" fill="#fff" stroke="#46c9a2" stroke-width="1.1"/>
<path d="M134.33 286.00 L136.68 288.35 L134.33 290.70 L131.98 288.35 Z" fill="#fff" stroke="#46c9a2" stroke-width="1.1"/>
<path d="M135.50 266.82 L137.85 269.17 L135.50 271.52 L133.15 269.17 Z" fill="#fff" stroke="#46c9a2" stroke-width="1.1"/>
<path d="M136.67 258.56 L139.02 260.91 L136.67 263.26 L134.32 260.91 Z" fill="#fff" stroke="#46c9a2" stroke-width="1.1"/>
<path d="M139.60 252.11 L141.95 254.46 L139.60 256.81 L137.25 254.46 Z" fill="#fff" stroke="#46c9a2" stroke-width="1.1"/>
<path d="M142.54 248.31 L144.89 250.66 L142.54 253.01 L140.19 250.66 Z" fill="#fff" stroke="#46c9a2" stroke-width="1.1"/>
<path d="M145.47 247.48 L147.82 249.83 L145.47 252.18 L143.12 249.83 Z" fill="#fff" stroke="#46c9a2" stroke-width="1.1"/>
<path d="M148.40 246.65 L150.75 249.00 L148.40 251.35 L146.05 249.00 Z" fill="#fff" stroke="#46c9a2" stroke-width="1.1"/>
<path d="M151.34 246.65 L153.69 249.00 L151.34 251.35 L148.99 249.00 Z" fill="#fff" stroke="#46c9a2" stroke-width="1.1"/>
<path d="M151.92 268.47 L154.27 270.82 L151.92 273.17 L149.57 270.82 Z" fill="#fff" stroke="#46c9a2" stroke-width="1.1"/>
<path d="M153.09 292.61 L155.44 294.96 L153.09 297.31 L150.74 294.96 Z" fill="#fff" stroke="#46c9a2" stroke-width="1.1"/>
<path d="M154.27 306.66 L156.62 309.01 L154.27 311.36 L151.92 309.01 Z" fill="#fff" stroke="#46c9a2" stroke-width="1.1"/>
<path d="M156.03 312.28 L158.38 314.63 L156.03 316.98 L153.68 314.63 Z" fill="#fff" stroke="#46c9a2" stroke-width="1.1"/>
<path d="M157.20 314.10 L159.55 316.45 L157.20 318.80 L154.85 316.45 Z" fill="#fff" stroke="#46c9a2" stroke-width="1.1"/>
<path d="M157.79 286.00 L160.14 288.35 L157.79 290.70 L155.44 288.35 Z" fill="#fff" stroke="#46c9a2" stroke-width="1.1"/>
<path d="M158.96 266.82 L161.31 269.17 L158.96 271.52 L156.61 269.17 Z" fill="#fff" stroke="#46c9a2" stroke-width="1.1"/>
<path d="M160.13 258.56 L162.48 260.91 L160.13 263.26 L157.78 260.91 Z" fill="#fff" stroke="#46c9a2" stroke-width="1.1"/>
<path d="M163.06 252.11 L165.41 254.46 L163.06 256.81 L160.72 254.46 Z" fill="#fff" stroke="#46c9a2" stroke-width="1.1"/>
<path d="M166.00 248.31 L168.35 250.66 L166.00 253.01 L163.65 250.66 Z" fill="#fff" stroke="#46c9a2" stroke-width="1.1"/>
<path d="M168.93 247.48 L171.28 249.83 L168.93 252.18 L166.58 249.83 Z" fill="#fff" stroke="#46c9a2" stroke-width="1.1"/>
<path d="M171.86 246.65 L174.21 249.00 L171.86 251.35 L169.51 249.00 Z" fill="#fff" stroke="#46c9a2" stroke-width="1.1"/>
<path d="M174.80 246.65 L177.15 249.00 L174.80 251.35 L172.45 249.00 Z" fill="#fff" stroke="#46c9a2" stroke-width="1.1"/>
<path d="M175.38 268.47 L177.73 270.82 L175.38 273.17 L173.03 270.82 Z" fill="#fff" stroke="#46c9a2" stroke-width="1.1"/>
<path d="M176.55 292.61 L178.90 294.96 L176.55 297.31 L174.20 294.96 Z" fill="#fff" stroke="#46c9a2" stroke-width="1.1"/>
<path d="M177.73 306.66 L180.08 309.01 L177.73 311.36 L175.38 309.01 Z" fill="#fff" stroke="#46c9a2" stroke-width="1.1"/>
<path d="M179.49 312.28 L181.84 314.63 L179.49 316.98 L177.14 314.63 Z" fill="#fff" stroke="#46c9a2" stroke-width="1.1"/>
<path d="M180.66 314.10 L183.01 316.45 L180.66 318.80 L178.31 316.45 Z" fill="#fff" stroke="#46c9a2" stroke-width="1.1"/>
<path d="M181.25 286.00 L183.60 288.35 L181.25 290.70 L178.90 288.35 Z" fill="#fff" stroke="#46c9a2" stroke-width="1.1"/>
<path d="M182.42 266.82 L184.77 269.17 L182.42 271.52 L180.07 269.17 Z" fill="#fff" stroke="#46c9a2" stroke-width="1.1"/>
<path d="M183.59 258.56 L185.94 260.91 L183.59 263.26 L181.24 260.91 Z" fill="#fff" stroke="#46c9a2" stroke-width="1.1"/>
<path d="M186.53 252.11 L188.88 254.46 L186.53 256.81 L184.18 254.46 Z" fill="#fff" stroke="#46c9a2" stroke-width="1.1"/>
<path d="M189.46 248.31 L191.81 250.66 L189.46 253.01 L187.11 250.66 Z" fill="#fff" stroke="#46c9a2" stroke-width="1.1"/>
<path d="M192.39 247.48 L194.74 249.83 L192.39 252.18 L190.04 249.83 Z" fill="#fff" stroke="#46c9a2" stroke-width="1.1"/>
<path d="M195.32 246.65 L197.67 249.00 L195.32 251.35 L192.97 249.00 Z" fill="#fff" stroke="#46c9a2" stroke-width="1.1"/>
<path d="M198.26 246.65 L200.61 249.00 L198.26 251.35 L195.91 249.00 Z" fill="#fff" stroke="#46c9a2" stroke-width="1.1"/>
<path d="M198.84 268.47 L201.19 270.82 L198.84 273.17 L196.49 270.82 Z" fill="#fff" stroke="#46c9a2" stroke-width="1.1"/>
<path d="M200.01 292.61 L202.36 294.96 L200.01 297.31 L197.66 294.96 Z" fill="#fff" stroke="#46c9a2" stroke-width="1.1"/>
<path d="M201.19 306.66 L203.54 309.01 L201.19 311.36 L198.84 309.01 Z" fill="#fff" stroke="#46c9a2" stroke-width="1.1"/>
<path d="M202.95 312.28 L205.30 314.63 L202.95 316.98 L200.60 314.63 Z" fill="#fff" stroke="#46c9a2" stroke-width="1.1"/>
<path d="M204.12 314.10 L206.47 316.45 L204.12 318.80 L201.77 316.45 Z" fill="#fff" stroke="#46c9a2" stroke-width="1.1"/>
<path d="M204.71 286.00 L207.06 288.35 L204.71 290.70 L202.36 288.35 Z" fill="#fff" stroke="#46c9a2" stroke-width="1.1"/>
<path d="M205.88 266.82 L208.23 269.17 L205.88 271.52 L203.53 269.17 Z" fill="#fff" stroke="#46c9a2" stroke-width="1.1"/>
<path d="M207.05 258.56 L209.40 260.91 L207.05 263.26 L204.70 260.91 Z" fill="#fff" stroke="#46c9a2" stroke-width="1.1"/>
<path d="M209.99 252.11 L212.34 254.46 L209.99 256.81 L207.64 254.46 Z" fill="#fff" stroke="#46c9a2" stroke-width="1.1"/>
<path d="M212.92 248.31 L215.27 250.66 L212.92 253.01 L210.57 250.66 Z" fill="#fff" stroke="#46c9a2" stroke-width="1.1"/>
<path d="M215.85 247.48 L218.20 249.83 L215.85 252.18 L213.50 249.83 Z" fill="#fff" stroke="#46c9a2" stroke-width="1.1"/>
<path d="M218.78 246.65 L221.13 249.00 L218.78 251.35 L216.43 249.00 Z" fill="#fff" stroke="#46c9a2" stroke-width="1.1"/>
<path d="M221.72 246.65 L224.06 249.00 L221.72 251.35 L219.37 249.00 Z" fill="#fff" stroke="#46c9a2" stroke-width="1.1"/>
<path d="M222.30 268.47 L224.65 270.82 L222.30 273.17 L219.95 270.82 Z" fill="#fff" stroke="#46c9a2" stroke-width="1.1"/>
<path d="M223.47 292.61 L225.82 294.96 L223.47 297.31 L221.12 294.96 Z" fill="#fff" stroke="#46c9a2" stroke-width="1.1"/>
<path d="M224.65 306.66 L227.00 309.01 L224.65 311.36 L222.30 309.01 Z" fill="#fff" stroke="#46c9a2" stroke-width="1.1"/>
<path d="M226.41 312.28 L228.76 314.63 L226.41 316.98 L224.06 314.63 Z" fill="#fff" stroke="#46c9a2" stroke-width="1.1"/>
<path d="M227.58 314.10 L229.93 316.45 L227.58 318.80 L225.23 316.45 Z" fill="#fff" stroke="#46c9a2" stroke-width="1.1"/>
<path d="M228.17 286.00 L230.52 288.35 L228.17 290.70 L225.82 288.35 Z" fill="#fff" stroke="#46c9a2" stroke-width="1.1"/>
<path d="M229.34 266.82 L231.69 269.17 L229.34 271.52 L226.99 269.17 Z" fill="#fff" stroke="#46c9a2" stroke-width="1.1"/>
<path d="M230.51 258.56 L232.86 260.91 L230.51 263.26 L228.16 260.91 Z" fill="#fff" stroke="#46c9a2" stroke-width="1.1"/>
<path d="M233.45 252.11 L235.80 254.46 L233.45 256.81 L231.10 254.46 Z" fill="#fff" stroke="#46c9a2" stroke-width="1.1"/>
<path d="M236.38 248.31 L238.73 250.66 L236.38 253.01 L234.03 250.66 Z" fill="#fff" stroke="#46c9a2" stroke-width="1.1"/>
<path d="M239.31 247.48 L241.66 249.83 L239.31 252.18 L236.96 249.83 Z" fill="#fff" stroke="#46c9a2" stroke-width="1.1"/>
<path d="M242.24 246.65 L244.59 249.00 L242.24 251.35 L239.89 249.00 Z" fill="#fff" stroke="#46c9a2" stroke-width="1.1"/>
<path d="M245.18 246.65 L247.53 249.00 L245.18 251.35 L242.83 249.00 Z" fill="#fff" stroke="#46c9a2" stroke-width="1.1"/>
<path d="M245.76 268.47 L248.11 270.82 L245.76 273.17 L243.41 270.82 Z" fill="#fff" stroke="#46c9a2" stroke-width="1.1"/>
<path d="M246.93 292.61 L249.28 294.96 L246.93 297.31 L244.58 294.96 Z" fill="#fff" stroke="#46c9a2" stroke-width="1.1"/>
<path d="M248.11 306.66 L250.46 309.01 L248.11 311.36 L245.76 309.01 Z" fill="#fff" stroke="#46c9a2" stroke-width="1.1"/>
<path d="M249.87 312.28 L252.22 314.63 L249.87 316.98 L247.52 314.63 Z" fill="#fff" stroke="#46c9a2" stroke-width="1.1"/>
<path d="M251.04 314.10 L253.39 316.45 L251.04 318.80 L248.69 316.45 Z" fill="#fff" stroke="#46c9a2" stroke-width="1.1"/>
<path d="M251.63 286.00 L253.98 288.35 L251.63 290.70 L249.28 288.35 Z" fill="#fff" stroke="#46c9a2" stroke-width="1.1"/>
<path d="M252.80 266.82 L255.15 269.17 L252.80 271.52 L250.45 269.17 Z" fill="#fff" stroke="#46c9a2" stroke-width="1.1"/>
<path d="M253.97 258.56 L256.32 260.91 L253.97 263.26 L251.62 260.91 Z" fill="#fff" stroke="#46c9a2" stroke-width="1.1"/>
<path d="M256.90 252.11 L259.25 254.46 L256.90 256.81 L254.55 254.46 Z" fill="#fff" stroke="#46c9a2" stroke-width="1.1"/>
<path d="M259.84 248.31 L262.19 250.66 L259.84 253.01 L257.49 250.66 Z" fill="#fff" stroke="#46c9a2" stroke-width="1.1"/>
<path d="M262.77 247.48 L265.12 249.83 L262.77 252.18 L260.42 249.83 Z" fill="#fff" stroke="#46c9a2" stroke-width="1.1"/>
<path d="M265.70 246.65 L268.05 249.00 L265.70 251.35 L263.35 249.00 Z" fill="#fff" stroke="#46c9a2" stroke-width="1.1"/>
<path d="M268.63 246.65 L270.99 249.00 L268.63 251.35 L266.28 249.00 Z" fill="#fff" stroke="#46c9a2" stroke-width="1.1"/>
<path d="M269.22 268.47 L271.57 270.82 L269.22 273.17 L266.87 270.82 Z" fill="#fff" stroke="#46c9a2" stroke-width="1.1"/>
<path d="M270.39 292.61 L272.74 294.96 L270.39 297.31 L268.04 294.96 Z" fill="#fff" stroke="#46c9a2" stroke-width="1.1"/>
<path d="M271.57 306.66 L273.92 309.01 L271.57 311.36 L269.22 309.01 Z" fill="#fff" stroke="#46c9a2" stroke-width="1.1"/>
<path d="M273.33 312.28 L275.68 314.63 L273.33 316.98 L270.98 314.63 Z" fill="#fff" stroke="#46c9a2" stroke-width="1.1"/>
<path d="M274.50 314.10 L276.85 316.45 L274.50 318.80 L272.15 316.45 Z" fill="#fff" stroke="#46c9a2" stroke-width="1.1"/>
<rect x="34.2" y="193.9" width="246.40000000000003" height="165.4" fill="none" stroke="#000" stroke-width="1.4"/>
<line x1="28.20" y1="351.16" x2="34.2" y2="351.16" stroke="#000" stroke-width="1.3"/>
<text x="22.90" y="355.16" font-size="11.3" text-anchor="end" fill="#000" font-weight="normal" >-2</text>
<line x1="31.20" y1="334.63" x2="34.2" y2="334.63" stroke="#000" stroke-width="1.3"/>
<line x1="28.20" y1="318.10" x2="34.2" y2="318.10" stroke="#000" stroke-width="1.3"/>
<text x="22.90" y="322.10" font-size="11.3" text-anchor="end" fill="#000" font-weight="normal" >0</text>
<line x1="31.20" y1="301.57" x2="34.2" y2="301.57" stroke="#000" stroke-width="1.3"/>
<line x1="28.20" y1="285.04" x2="34.2" y2="285.04" stroke="#000" stroke-width="1.3"/>
<text x="22.90" y="289.04" font-size="11.3" text-anchor="end" fill="#000" font-weight="normal" >2</text>
<line x1="31.20" y1="268.51" x2="34.2" y2="268.51" stroke="#000" stroke-width="1.3"/>
<line x1="28.20" y1="251.98" x2="34.2" y2="251.98" stroke="#000" stroke-width="1.3"/>
<text x="22.90" y="255.98" font-size="11.3" text-anchor="end" fill="#000" font-weight="normal" >4</text>
<line x1="31.20" y1="235.45" x2="34.2" y2="235.45" stroke="#000" stroke-width="1.3"/>
<line x1="28.20" y1="218.92" x2="34.2" y2="218.92" stroke="#000" stroke-width="1.3"/>
<text x="22.90" y="222.92" font-size="11.3" text-anchor="end" fill="#000" font-weight="normal" >6</text>
<line x1="31.20" y1="202.39" x2="34.2" y2="202.39" stroke="#000" stroke-width="1.3"/>
<line x1="39.90" y1="359.3" x2="39.90" y2="365.30" stroke="#000" stroke-width="1.3"/>
<text x="39.90" y="379.50" font-size="11.3" text-anchor="middle" fill="#000" font-weight="normal" >0</text>
<line x1="69.22" y1="359.3" x2="69.22" y2="362.30" stroke="#000" stroke-width="1.3"/>
<line x1="98.55" y1="359.3" x2="98.55" y2="365.30" stroke="#000" stroke-width="1.3"/>
<text x="98.55" y="379.50" font-size="11.3" text-anchor="middle" fill="#000" font-weight="normal" >100</text>
<line x1="127.88" y1="359.3" x2="127.88" y2="362.30" stroke="#000" stroke-width="1.3"/>
<line x1="157.20" y1="359.3" x2="157.20" y2="365.30" stroke="#000" stroke-width="1.3"/>
<text x="157.20" y="379.50" font-size="11.3" text-anchor="middle" fill="#000" font-weight="normal" >200</text>
<line x1="186.53" y1="359.3" x2="186.53" y2="362.30" stroke="#000" stroke-width="1.3"/>
<line x1="215.85" y1="359.3" x2="215.85" y2="365.30" stroke="#000" stroke-width="1.3"/>
<text x="215.85" y="379.50" font-size="11.3" text-anchor="middle" fill="#000" font-weight="normal" >300</text>
<line x1="245.18" y1="359.3" x2="245.18" y2="362.30" stroke="#000" stroke-width="1.3"/>
<line x1="274.50" y1="359.3" x2="274.50" y2="365.30" stroke="#000" stroke-width="1.3"/>
<text x="274.50" y="379.50" font-size="11.3" text-anchor="middle" fill="#000" font-weight="normal" >400</text>
<line x1="280.6" y1="349.90" x2="283.30" y2="349.90" stroke="#000" stroke-width="1.3"/>
<line x1="280.6" y1="328.60" x2="285.60" y2="328.60" stroke="#000" stroke-width="1.3"/>
<text x="291.20" y="332.60" font-size="11.3" text-anchor="start" fill="#000" font-weight="normal" >60</text>
<line x1="280.6" y1="307.30" x2="283.30" y2="307.30" stroke="#000" stroke-width="1.3"/>
<line x1="280.6" y1="286.00" x2="285.60" y2="286.00" stroke="#000" stroke-width="1.3"/>
<text x="291.20" y="290.00" font-size="11.3" text-anchor="start" fill="#000" font-weight="normal" >120</text>
<line x1="280.6" y1="264.70" x2="283.30" y2="264.70" stroke="#000" stroke-width="1.3"/>
<line x1="280.6" y1="243.40" x2="285.60" y2="243.40" stroke="#000" stroke-width="1.3"/>
<text x="291.20" y="247.40" font-size="11.3" text-anchor="start" fill="#000" font-weight="normal" >180</text>
<line x1="280.6" y1="222.10" x2="283.30" y2="222.10" stroke="#000" stroke-width="1.3"/>
<line x1="280.6" y1="200.80" x2="285.60" y2="200.80" stroke="#000" stroke-width="1.3"/>
<text x="291.20" y="204.80" font-size="11.3" text-anchor="start" fill="#000" font-weight="normal" >240</text>
<text x="155.50" y="389.00" font-size="11.4" text-anchor="middle" fill="#000" font-weight="normal" >Time (min)</text>
<text transform="translate(13.0 281.0) rotate(-90)" font-size="11.5" text-anchor="middle">Water uptake (g g<tspan font-size="7.5" dy="-4.8">-1</tspan><tspan dy="4.8">)</tspan></text>
<text transform="translate(321.7 276.8) rotate(-90)" font-size="11.4" text-anchor="middle">Temperature (°C)</text>
<line x1="37.9" y1="205.00" x2="63.4" y2="205.00" stroke="#46c9a2" stroke-width="1.4"/>
<path d="M50.60 202.80 L52.80 205.00 L50.60 207.20 L48.40 205.00 Z" fill="#fff" stroke="#46c9a2" stroke-width="0.9"/>
<text x="66.70" y="209.00" font-size="11.4" text-anchor="start" fill="#000" font-weight="normal" >MOF-CT/PVA</text>
<line x1="37.9" y1="218.60" x2="63.4" y2="218.60" stroke="#f01a30" stroke-width="1.4"/>
<circle cx="50.60" cy="218.60" r="1.8" fill="#fff" stroke="#f01a30" stroke-width="0.9"/>
<text x="66.70" y="222.60" font-size="11.4" text-anchor="start" fill="#000" font-weight="normal" >HMOF-CT/PVA</text>
<line x1="37.9" y1="232.20" x2="63.4" y2="232.20" stroke="#88866e" stroke-width="1.4"/>
<path d="M48.70 231.12 L52.50 231.12 L50.60 233.91 Z" fill="#fff" stroke="#88866e" stroke-width="0.9" stroke-linejoin="miter"/>
<text x="66.70" y="236.20" font-size="11.4" text-anchor="start" fill="#000" font-weight="normal" >CT/PVA</text>
<line x1="172.9" y1="203.80" x2="197.9" y2="203.80" stroke="#48cca6" stroke-width="1.7"/>
<text x="200.90" y="207.80" font-size="11.4" text-anchor="start" fill="#000" font-weight="normal" >MOF-CT/PVA</text>
<line x1="172.9" y1="217.60" x2="197.9" y2="217.60" stroke="#f06a62" stroke-width="1.7"/>
<text x="200.90" y="221.60" font-size="11.4" text-anchor="start" fill="#000" font-weight="normal" >HMOF-CT/PVA</text>
<line x1="172.9" y1="231.40" x2="197.9" y2="231.40" stroke="#86826c" stroke-width="1.7"/>
<text x="200.90" y="235.40" font-size="11.4" text-anchor="start" fill="#000" font-weight="normal" >CT/PVA</text>
<line x1="49.6" y1="245.4" x2="39.5" y2="243.9" stroke="#000" stroke-width="1.1"/>
<path d="M36.0 243.3 L40.8 241.3 L39.8 245.9 Z" fill="#000"/>
<line x1="260.4" y1="330.4" x2="272.5" y2="327.0" stroke="#000" stroke-width="1.1"/>
<path d="M276.3 326.2 L271.0 324.7 L272.6 329.3 Z" fill="#000"/>
<text x="332.80" y="202.60" font-size="15.5" text-anchor="start" fill="#000" font-weight="bold" >d</text>
<rect x="332.2" y="205.6" width="28" height="16.2" rx="8" fill="#defafc" filter="url(#blur1)"/>
<ellipse cx="346.5" cy="213.3" rx="8.5" ry="3.6" fill="#f4fdfe" filter="url(#blur1)"/>
<text x="362.70" y="217.50" font-size="11.6" text-anchor="start" fill="#1a1a1a" font-weight="normal" >Humid air</text>
<circle cx="419.6" cy="214" r="3.1" fill="url(#drop)"/>
<text x="427.30" y="217.50" font-size="11.6" text-anchor="start" fill="#1a1a1a" font-weight="normal" >Water droplets</text>
<path d="M508.8 219.5 L510.2 206 L511.3 206.3 L510.3 219.5 Z" fill="#b08cc4"/>
<text x="514.00" y="217.50" font-size="11.6" text-anchor="start" fill="#1a1a1a" font-weight="normal" >MOF nanosheets</text>
<rect x="607" y="210.6" width="21.5" height="7.3" fill="#a9dcf0" filter="url(#blur05)"/>
<path d="M614 212.5 L618 214" stroke="#70b8e0" stroke-width="0.6"/>
<text x="633.00" y="217.50" font-size="11.7" text-anchor="start" fill="#1a1a1a" font-weight="normal" >Hydrogel</text>
<rect x="330.3" y="235.8" width="172.0" height="118.2" rx="17" ry="17" fill="#4a4848"/>
<path d="M355.2 242.1 A9.9 9.9 0 1 0 355.6 261.4 A10.8 10.8 0 0 1 355.2 242.1 Z" fill="#f6f000" filter="url(#glowy)"/>
<text x="418.40" y="254.40" font-size="11.4" text-anchor="middle" fill="#fff" font-weight="normal" >Nighttime</text>
<rect x="345" y="267.5" width="69" height="19" rx="9" fill="#6c7a7a" filter="url(#blur2)"/>
<path d="M351 281 Q349.5 276 354 275 Q358 273 364 274.2 Q369 272 376 273.6 Q382 271.5 389 273.2 Q396 271.6 402 273.8 Q408.5 274.5 408.8 278 Q408.5 282.2 402 282.6 Q380 284.6 358 283.8 Q351.5 283.6 351 281 Z" fill="#ffffff" filter="url(#blur08)"/>
<rect x="345.6" y="312.4" width="70" height="30.8" fill="#b0e0f2" filter="url(#blur05)"/>
<path d="M350 335 Q356 333 362 336" stroke="#90cce8" stroke-width="0.8" fill="none"/>
<path d="M376 318 Q380 316 384 319" stroke="#90cce8" stroke-width="0.8" fill="none"/>
<path d="M354.60 283.80 L357.20 283.80 L357.20 286.60 L359.40 286.60 L355.90 292.60 L352.40 286.60 L354.60 286.60 Z" fill="#72eefa"/>
<path d="M366.90 283.80 L369.50 283.80 L369.50 286.60 L371.70 286.60 L368.20 292.60 L364.70 286.60 L366.90 286.60 Z" fill="#72eefa"/>
<path d="M379.30 283.80 L381.90 283.80 L381.90 286.60 L384.10 286.60 L380.60 292.60 L377.10 286.60 L379.30 286.60 Z" fill="#72eefa"/>
<path d="M391.60 283.80 L394.20 283.80 L394.20 286.60 L396.40 286.60 L392.90 292.60 L389.40 286.60 L391.60 286.60 Z" fill="#72eefa"/>
<path d="M403.80 283.80 L406.40 283.80 L406.40 286.60 L408.60 286.60 L405.10 292.60 L401.60 286.60 L403.80 286.60 Z" fill="#72eefa"/>
<line x1="349" y1="294" x2="352.6" y2="312.5" stroke="#561f80" stroke-width="2.1" stroke-linecap="round"/>
<line x1="354" y1="295" x2="360.4" y2="312.5" stroke="#561f80" stroke-width="2.1" stroke-linecap="round"/>
<line x1="356.5" y1="296" x2="364" y2="312.5" stroke="#561f80" stroke-width="2.1" stroke-linecap="round"/>
<line x1="365.4" y1="293.5" x2="359" y2="312.5" stroke="#561f80" stroke-width="2.1" stroke-linecap="round"/>
<line x1="364.7" y1="294" x2="363.6" y2="312.5" stroke="#561f80" stroke-width="2.1" stroke-linecap="round"/>
<line x1="371" y1="294" x2="372.6" y2="312.5" stroke="#561f80" stroke-width="2.1" stroke-linecap="round"/>
<line x1="375.4" y1="294" x2="370.4" y2="312.5" stroke="#561f80" stroke-width="2.1" stroke-linecap="round"/>
<line x1="381" y1="296" x2="377.6" y2="312.5" stroke="#561f80" stroke-width="2.1" stroke-linecap="round"/>
<line x1="383.4" y1="294" x2="378" y2="308" stroke="#561f80" stroke-width="2.1" stroke-linecap="round"/>
<line x1="383.4" y1="294" x2="383.6" y2="312.5" stroke="#561f80" stroke-width="2.1" stroke-linecap="round"/>
<line x1="383.6" y1="296" x2="391.2" y2="312.5" stroke="#561f80" stroke-width="2.1" stroke-linecap="round"/>
<line x1="395.1" y1="294" x2="395.1" y2="312.5" stroke="#561f80" stroke-width="2.1" stroke-linecap="round"/>
<line x1="395.9" y1="294" x2="392.3" y2="312.5" stroke="#561f80" stroke-width="2.1" stroke-linecap="round"/>
<line x1="400.9" y1="294" x2="407.3" y2="312.5" stroke="#561f80" stroke-width="2.1" stroke-linecap="round"/>
<line x1="399.4" y1="295" x2="398" y2="312.5" stroke="#561f80" stroke-width="2.1" stroke-linecap="round"/>
<line x1="410.9" y1="293.5" x2="411.6" y2="312.5" stroke="#561f80" stroke-width="2.1" stroke-linecap="round"/>
<line x1="414.8" y1="295" x2="412.3" y2="312.5" stroke="#561f80" stroke-width="2.1" stroke-linecap="round"/>
<circle cx="352.6" cy="312.6" r="1" fill="#e0a8e8" fill-opacity="0.8"/>
<circle cx="360.4" cy="312.6" r="1" fill="#e0a8e8" fill-opacity="0.8"/>
<circle cx="364" cy="312.6" r="1" fill="#e0a8e8" fill-opacity="0.8"/>
<circle cx="372.6" cy="312.6" r="1" fill="#e0a8e8" fill-opacity="0.8"/>
<circle cx="378" cy="312.6" r="1" fill="#e0a8e8" fill-opacity="0.8"/>
<circle cx="391.2" cy="312.6" r="1" fill="#e0a8e8" fill-opacity="0.8"/>
<circle cx="395.1" cy="312.6" r="1" fill="#e0a8e8" fill-opacity="0.8"/>
<circle cx="398" cy="312.6" r="1" fill="#e0a8e8" fill-opacity="0.8"/>
<circle cx="407.3" cy="312.6" r="1" fill="#e0a8e8" fill-opacity="0.8"/>
<circle cx="411.6" cy="312.6" r="1" fill="#e0a8e8" fill-opacity="0.8"/>
<circle cx="352.9" cy="298.9" r="2.6" fill="url(#drop)"/>
<circle cx="359.6" cy="297.5" r="1.9" fill="url(#drop)"/>
<circle cx="367.9" cy="303.2" r="2.8" fill="url(#drop)"/>
<circle cx="379" cy="310.4" r="2.4" fill="url(#drop)"/>
<circle cx="386.2" cy="297.1" r="2.1" fill="url(#drop)"/>
<circle cx="392.3" cy="306.8" r="2.6" fill="url(#drop)"/>
<circle cx="407.6" cy="301.4" r="3.0" fill="url(#drop)"/>
<circle cx="403" cy="310.7" r="1.8" fill="url(#drop)"/>
<path d="M352.30 313.00 L355.30 313.00 L355.30 324.50 L357.30 324.50 L353.80 331.00 L350.30 324.50 L352.30 324.50 Z" fill="#14aef4"/>
<path d="M365.70 313.00 L368.70 313.00 L368.70 324.50 L370.70 324.50 L367.20 331.00 L363.70 324.50 L365.70 324.50 Z" fill="#14aef4"/>
<path d="M379.30 313.00 L382.30 313.00 L382.30 324.50 L384.30 324.50 L380.80 331.00 L377.30 324.50 L379.30 324.50 Z" fill="#14aef4"/>
<path d="M392.90 313.00 L395.90 313.00 L395.90 324.50 L397.90 324.50 L394.40 331.00 L390.90 324.50 L392.90 324.50 Z" fill="#14aef4"/>
<path d="M406.00 313.00 L409.00 313.00 L409.00 324.50 L411.00 324.50 L407.50 331.00 L404.00 324.50 L406.00 324.50 Z" fill="#14aef4"/>
<text x="455.80" y="289.60" font-size="11.5" text-anchor="middle" fill="#72d8ea" font-weight="normal" >Water adsorption</text>
<text x="457.50" y="302.40" font-size="11.5" text-anchor="middle" fill="#e4bcd8" font-weight="normal" >Super-</text>
<text x="457.30" y="311.80" font-size="11.5" text-anchor="middle" fill="#e4bcd8" font-weight="normal" >hydrophilicity</text>
<text x="456.20" y="329.70" font-size="11.5" text-anchor="middle" fill="#22a8e0" font-weight="normal" >Capillarity</text>
<rect x="511.2" y="236.9" width="172.2" height="117.0" rx="16" ry="16" fill="#fde8b6"/>
<circle cx="532.4" cy="254.5" r="26" fill="url(#sun)"/>
<text x="603.70" y="255.70" font-size="11.4" text-anchor="middle" fill="#1a1a1a" font-weight="normal" >Daytime</text>
<rect x="527" y="270.5" width="67" height="18" rx="9" fill="#eef3d4" filter="url(#blur2)"/>
<path d="M533 282.5 Q531.5 278 536 277 Q540 275.3 546 276.3 Q551 274.4 558 275.8 Q564 273.9 571 275.4 Q578 274 584 276 Q589.5 276.6 589.6 279.6 Q589.4 283.6 583 284 Q561 285.8 540 285 Q533.5 284.8 533 282.5 Z" fill="#ffffff" filter="url(#blur08)"/>
<rect x="529" y="299.5" width="66" height="10.5" rx="4" fill="#f2a660" filter="url(#blur2)"/>
<rect x="526.8" y="313.6" width="69.9" height="30.9" fill="#b2dcf0" filter="url(#blur05)"/>
<path d="M532 338 Q538 336 544 339" stroke="#90c8e8" stroke-width="0.8" fill="none"/>
<path d="M536.30 294.50 L538.90 294.50 L538.90 291.40 L540.80 291.40 L537.60 286.20 L534.40 291.40 L536.30 291.40 Z" fill="#74eafa"/>
<path d="M548.40 294.50 L551.00 294.50 L551.00 291.40 L552.90 291.40 L549.70 286.20 L546.50 291.40 L548.40 291.40 Z" fill="#74eafa"/>
<path d="M560.60 294.50 L563.20 294.50 L563.20 291.40 L565.10 291.40 L561.90 286.20 L558.70 291.40 L560.60 291.40 Z" fill="#74eafa"/>
<path d="M572.90 294.50 L575.50 294.50 L575.50 291.40 L577.40 291.40 L574.20 286.20 L571.00 291.40 L572.90 291.40 Z" fill="#74eafa"/>
<path d="M585.10 294.50 L587.70 294.50 L587.70 291.40 L589.60 291.40 L586.40 286.20 L583.20 291.40 L585.10 291.40 Z" fill="#74eafa"/>
<line x1="530.2" y1="296.5" x2="535.4" y2="314" stroke="#83539a" stroke-width="2.3" stroke-opacity="0.8" stroke-linecap="round"/>
<line x1="535" y1="297.5" x2="545.8" y2="314" stroke="#83539a" stroke-width="2.3" stroke-opacity="0.8" stroke-linecap="round"/>
<line x1="546.2" y1="296" x2="538.9" y2="314" stroke="#83539a" stroke-width="2.3" stroke-opacity="0.8" stroke-linecap="round"/>
<line x1="545.8" y1="297" x2="545" y2="314" stroke="#83539a" stroke-width="2.3" stroke-opacity="0.8" stroke-linecap="round"/>
<line x1="552.8" y1="297" x2="550.2" y2="314" stroke="#83539a" stroke-width="2.3" stroke-opacity="0.8" stroke-linecap="round"/>
<line x1="556.2" y1="298" x2="551" y2="314" stroke="#83539a" stroke-width="2.3" stroke-opacity="0.8" stroke-linecap="round"/>
<line x1="553.6" y1="297" x2="556.2" y2="314" stroke="#83539a" stroke-width="2.3" stroke-opacity="0.8" stroke-linecap="round"/>
<line x1="563.6" y1="298" x2="558.8" y2="314" stroke="#83539a" stroke-width="2.3" stroke-opacity="0.8" stroke-linecap="round"/>
<line x1="563.9" y1="297" x2="574.3" y2="314" stroke="#83539a" stroke-width="2.3" stroke-opacity="0.8" stroke-linecap="round"/>
<line x1="577.3" y1="297" x2="576.5" y2="314" stroke="#83539a" stroke-width="2.3" stroke-opacity="0.8" stroke-linecap="round"/>
<line x1="582.1" y1="297" x2="579.1" y2="314" stroke="#83539a" stroke-width="2.3" stroke-opacity="0.8" stroke-linecap="round"/>
<line x1="582.5" y1="297" x2="589.9" y2="314" stroke="#83539a" stroke-width="2.3" stroke-opacity="0.8" stroke-linecap="round"/>
<line x1="592.5" y1="296" x2="593" y2="314" stroke="#83539a" stroke-width="2.3" stroke-opacity="0.8" stroke-linecap="round"/>
<line x1="596" y1="298" x2="594.3" y2="314" stroke="#83539a" stroke-width="2.3" stroke-opacity="0.8" stroke-linecap="round"/>
<circle cx="535.4" cy="314" r="1" fill="#e4a8ec" fill-opacity="0.8"/>
<circle cx="545.8" cy="314" r="1" fill="#e4a8ec" fill-opacity="0.8"/>
<circle cx="538.9" cy="314" r="1" fill="#e4a8ec" fill-opacity="0.8"/>
<circle cx="550.2" cy="314" r="1" fill="#e4a8ec" fill-opacity="0.8"/>
<circle cx="556.2" cy="314" r="1" fill="#e4a8ec" fill-opacity="0.8"/>
<circle cx="558.8" cy="314" r="1" fill="#e4a8ec" fill-opacity="0.8"/>
<circle cx="574.3" cy="314" r="1" fill="#e4a8ec" fill-opacity="0.8"/>
<circle cx="576.5" cy="314" r="1" fill="#e4a8ec" fill-opacity="0.8"/>
<circle cx="589.9" cy="314" r="1" fill="#e4a8ec" fill-opacity="0.8"/>
<circle cx="593" cy="314" r="1" fill="#e4a8ec" fill-opacity="0.8"/>
<path d="M533.30 332.00 L536.30 332.00 L536.30 321.20 L538.30 321.20 L534.80 314.70 L531.30 321.20 L533.30 321.20 Z" fill="#14aef4"/>
<path d="M547.10 332.00 L550.10 332.00 L550.10 321.20 L552.10 321.20 L548.60 314.70 L545.10 321.20 L547.10 321.20 Z" fill="#14aef4"/>
<path d="M560.40 332.00 L563.40 332.00 L563.40 321.20 L565.40 321.20 L561.90 314.70 L558.40 321.20 L560.40 321.20 Z" fill="#14aef4"/>
<path d="M574.10 332.00 L577.10 332.00 L577.10 321.20 L579.10 321.20 L575.60 314.70 L572.10 321.20 L574.10 321.20 Z" fill="#14aef4"/>
<path d="M587.70 332.00 L590.70 332.00 L590.70 321.20 L592.70 321.20 L589.20 314.70 L585.70 321.20 L587.70 321.20 Z" fill="#14aef4"/>
<text x="637.40" y="292.50" font-size="11.5" text-anchor="middle" fill="#84e4f6" font-weight="normal" >Water lost</text>
<text x="635.90" y="304.00" font-size="11.5" text-anchor="middle" fill="#f08a44" font-weight="normal" >Solar-thermal</text>
<text x="637.70" y="314.00" font-size="11.5" text-anchor="middle" fill="#f08a44" font-weight="normal" >conversion</text>
<text x="637.70" y="328.20" font-size="11.5" text-anchor="middle" fill="#22a8e4" font-weight="normal" >Water flow</text>
</svg>
</body></html>
